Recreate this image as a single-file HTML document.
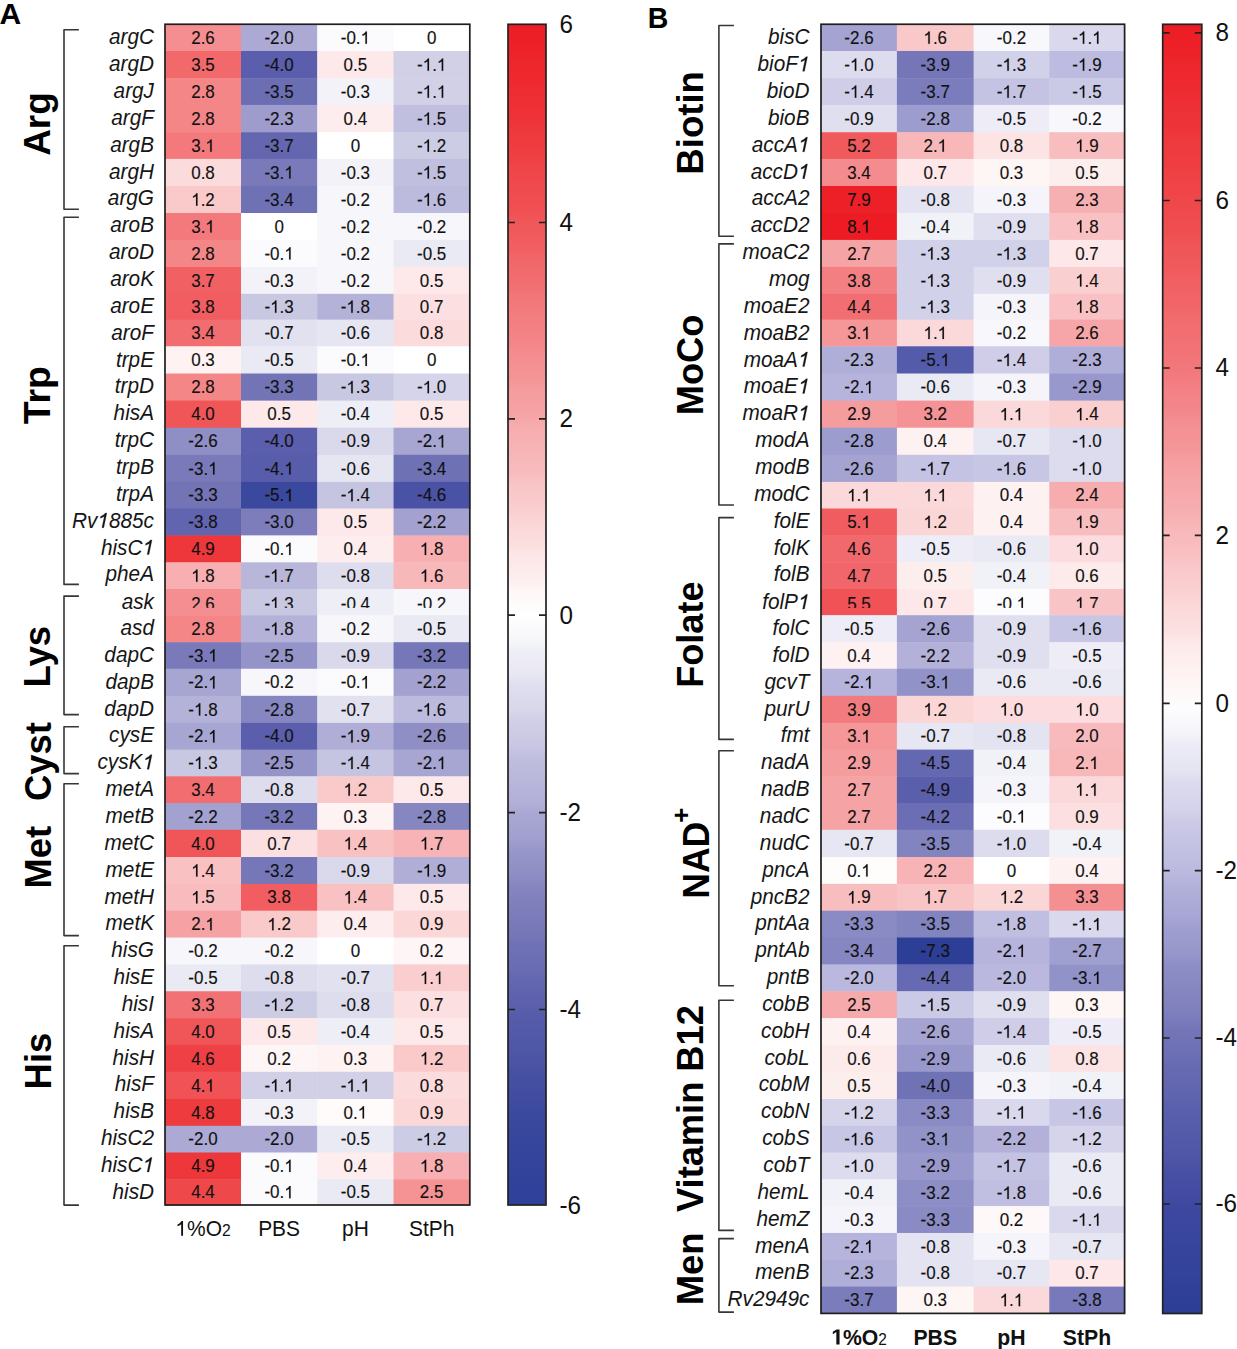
<!DOCTYPE html>
<html><head><meta charset="utf-8"><title>Heatmap</title><style>
html,body{margin:0;padding:0;background:#fff;}
body{width:1237px;height:1349px;overflow:hidden;}
svg{display:block;font-family:"Liberation Sans",sans-serif;}
.num{font-size:17.9px;fill:#111;stroke:#111;stroke-width:0.15px;}
.onep{fill:#111;stroke:#111;stroke-width:0.15px;vector-effect:non-scaling-stroke;}
.onec{fill:#111;}
.onei{fill:#161616;stroke:#161616;stroke-width:0.25px;vector-effect:non-scaling-stroke;}
.gene{font-size:21.2px;font-style:italic;fill:#161616;}
.grp{font-size:37.1px;font-weight:bold;fill:#000;}
.sup{font-size:25.6px;}
.cola{font-size:21.4px;fill:#111;}
.colb{font-size:22.1px;font-weight:bold;fill:#111;}
.sub{font-size:16px;font-weight:normal;}
.cbl{font-size:25.5px;fill:#111;}
.pl{font-size:30px;font-weight:bold;fill:#000;}
</style></head>
<body><svg width="1237" height="1349" viewBox="0 0 1237 1349">
<rect width="1237" height="1349" fill="#fff"/>
<text class="pl" transform="translate(-0.6 23.9)">A</text>
<text class="pl" transform="translate(647.8 27.5) scale(0.95 1)">B</text>
<rect x="165" y="24.25" width="76.5" height="27.25" fill="#f48e90"/>
<rect x="241" y="24.25" width="76.7" height="27.25" fill="#acaad4"/>
<rect x="317.2" y="24.25" width="76.85" height="27.25" fill="#fbfbfd"/>
<rect x="393.55" y="24.25" width="76.75" height="27.25" fill="#ffffff"/>
<rect x="165" y="51" width="76.5" height="27.7" fill="#f2696c"/>
<rect x="241" y="51" width="76.7" height="27.7" fill="#5a5eac"/>
<rect x="317.2" y="51" width="76.85" height="27.7" fill="#fde9e9"/>
<rect x="393.55" y="51" width="76.75" height="27.7" fill="#d1d0e7"/>
<rect x="165" y="78.2" width="76.5" height="27.2" fill="#f48688"/>
<rect x="241" y="78.2" width="76.7" height="27.2" fill="#6c6eb4"/>
<rect x="317.2" y="78.2" width="76.85" height="27.2" fill="#f3f2f9"/>
<rect x="393.55" y="78.2" width="76.75" height="27.2" fill="#d1d0e7"/>
<rect x="165" y="104.9" width="76.5" height="27.8" fill="#f48688"/>
<rect x="241" y="104.9" width="76.7" height="27.8" fill="#9e9ccc"/>
<rect x="317.2" y="104.9" width="76.85" height="27.8" fill="#fdedee"/>
<rect x="393.55" y="104.9" width="76.75" height="27.8" fill="#c1bfdf"/>
<rect x="165" y="132.2" width="76.5" height="27.2" fill="#f3797c"/>
<rect x="241" y="132.2" width="76.7" height="27.2" fill="#6467b0"/>
<rect x="317.2" y="132.2" width="76.85" height="27.2" fill="#ffffff"/>
<rect x="393.55" y="132.2" width="76.75" height="27.2" fill="#cdcce5"/>
<rect x="165" y="158.9" width="76.5" height="27.6" fill="#fbdbdc"/>
<rect x="241" y="158.9" width="76.7" height="27.6" fill="#7a7aba"/>
<rect x="317.2" y="158.9" width="76.85" height="27.6" fill="#f3f2f9"/>
<rect x="393.55" y="158.9" width="76.75" height="27.6" fill="#c1bfdf"/>
<rect x="165" y="186" width="76.5" height="27.5" fill="#facacb"/>
<rect x="241" y="186" width="76.7" height="27.5" fill="#6f71b5"/>
<rect x="317.2" y="186" width="76.85" height="27.5" fill="#f7f6fb"/>
<rect x="393.55" y="186" width="76.75" height="27.5" fill="#bdbbdd"/>
<rect x="165" y="213" width="76.5" height="27.4" fill="#f3797c"/>
<rect x="241" y="213" width="76.7" height="27.4" fill="#ffffff"/>
<rect x="317.2" y="213" width="76.85" height="27.4" fill="#f7f6fb"/>
<rect x="393.55" y="213" width="76.75" height="27.4" fill="#f7f6fb"/>
<rect x="165" y="239.9" width="76.5" height="27.55" fill="#f48688"/>
<rect x="241" y="239.9" width="76.7" height="27.55" fill="#fbfbfd"/>
<rect x="317.2" y="239.9" width="76.85" height="27.55" fill="#f7f6fb"/>
<rect x="393.55" y="239.9" width="76.75" height="27.55" fill="#eaeaf4"/>
<rect x="165" y="266.95" width="76.5" height="27.35" fill="#f16164"/>
<rect x="241" y="266.95" width="76.7" height="27.35" fill="#f3f2f9"/>
<rect x="317.2" y="266.95" width="76.85" height="27.35" fill="#f7f6fb"/>
<rect x="393.55" y="266.95" width="76.75" height="27.35" fill="#fde9e9"/>
<rect x="165" y="293.8" width="76.5" height="26.3" fill="#f15d60"/>
<rect x="241" y="293.8" width="76.7" height="26.3" fill="#c9c8e3"/>
<rect x="317.2" y="293.8" width="76.85" height="26.3" fill="#b4b2d8"/>
<rect x="393.55" y="293.8" width="76.75" height="26.3" fill="#fce0e1"/>
<rect x="165" y="319.6" width="76.5" height="27.2" fill="#f26d70"/>
<rect x="241" y="319.6" width="76.7" height="27.2" fill="#e2e1f0"/>
<rect x="317.2" y="319.6" width="76.85" height="27.2" fill="#e6e6f2"/>
<rect x="393.55" y="319.6" width="76.75" height="27.2" fill="#fbdbdc"/>
<rect x="165" y="346.3" width="76.5" height="27.7" fill="#fef2f2"/>
<rect x="241" y="346.3" width="76.7" height="27.7" fill="#eaeaf4"/>
<rect x="317.2" y="346.3" width="76.85" height="27.7" fill="#fbfbfd"/>
<rect x="393.55" y="346.3" width="76.75" height="27.7" fill="#ffffff"/>
<rect x="165" y="373.5" width="76.5" height="27.6" fill="#f48688"/>
<rect x="241" y="373.5" width="76.7" height="27.6" fill="#7274b6"/>
<rect x="317.2" y="373.5" width="76.85" height="27.6" fill="#c9c8e3"/>
<rect x="393.55" y="373.5" width="76.75" height="27.6" fill="#d6d4ea"/>
<rect x="165" y="400.6" width="76.5" height="27.6" fill="#f05558"/>
<rect x="241" y="400.6" width="76.7" height="27.6" fill="#fde9e9"/>
<rect x="317.2" y="400.6" width="76.85" height="27.6" fill="#eeeef6"/>
<rect x="393.55" y="400.6" width="76.75" height="27.6" fill="#fde9e9"/>
<rect x="165" y="427.7" width="76.5" height="27.6" fill="#908fc5"/>
<rect x="241" y="427.7" width="76.7" height="27.6" fill="#5a5eac"/>
<rect x="317.2" y="427.7" width="76.85" height="27.6" fill="#dad9ec"/>
<rect x="393.55" y="427.7" width="76.75" height="27.6" fill="#a7a6d2"/>
<rect x="165" y="454.8" width="76.5" height="27.6" fill="#7a7aba"/>
<rect x="241" y="454.8" width="76.7" height="27.6" fill="#575cab"/>
<rect x="317.2" y="454.8" width="76.85" height="27.6" fill="#e6e6f2"/>
<rect x="393.55" y="454.8" width="76.75" height="27.6" fill="#6f71b5"/>
<rect x="165" y="481.9" width="76.5" height="27.1" fill="#7274b6"/>
<rect x="241" y="481.9" width="76.7" height="27.1" fill="#3a489d"/>
<rect x="317.2" y="481.9" width="76.85" height="27.1" fill="#c5c4e1"/>
<rect x="393.55" y="481.9" width="76.75" height="27.1" fill="#4952a4"/>
<rect x="165" y="508.5" width="76.5" height="27.4" fill="#6164af"/>
<rect x="241" y="508.5" width="76.7" height="27.4" fill="#7d7dbb"/>
<rect x="317.2" y="508.5" width="76.85" height="27.4" fill="#fde9e9"/>
<rect x="393.55" y="508.5" width="76.75" height="27.4" fill="#a3a1cf"/>
<rect x="165" y="535.4" width="76.5" height="27.4" fill="#ee373b"/>
<rect x="241" y="535.4" width="76.7" height="27.4" fill="#fbfbfd"/>
<rect x="317.2" y="535.4" width="76.85" height="27.4" fill="#fdedee"/>
<rect x="393.55" y="535.4" width="76.75" height="27.4" fill="#f7afb1"/>
<rect x="165" y="562.3" width="76.5" height="27.2" fill="#f7afb1"/>
<rect x="241" y="562.3" width="76.7" height="27.2" fill="#b8b7da"/>
<rect x="317.2" y="562.3" width="76.85" height="27.2" fill="#deddee"/>
<rect x="393.55" y="562.3" width="76.75" height="27.2" fill="#f8b8b9"/>
<rect x="165" y="589" width="76.5" height="26.7" fill="#f48e90"/>
<rect x="241" y="589" width="76.7" height="26.7" fill="#c9c8e3"/>
<rect x="317.2" y="589" width="76.85" height="26.7" fill="#eeeef6"/>
<rect x="393.55" y="589" width="76.75" height="26.7" fill="#f7f6fb"/>
<rect x="165" y="615.2" width="76.5" height="27.5" fill="#f48688"/>
<rect x="241" y="615.2" width="76.7" height="27.5" fill="#b4b2d8"/>
<rect x="317.2" y="615.2" width="76.85" height="27.5" fill="#f7f6fb"/>
<rect x="393.55" y="615.2" width="76.75" height="27.5" fill="#eaeaf4"/>
<rect x="165" y="642.2" width="76.5" height="27.05" fill="#7a7aba"/>
<rect x="241" y="642.2" width="76.7" height="27.05" fill="#9494c8"/>
<rect x="317.2" y="642.2" width="76.85" height="27.05" fill="#dad9ec"/>
<rect x="393.55" y="642.2" width="76.75" height="27.05" fill="#7677b8"/>
<rect x="165" y="668.75" width="76.5" height="27.55" fill="#a7a6d2"/>
<rect x="241" y="668.75" width="76.7" height="27.55" fill="#f7f6fb"/>
<rect x="317.2" y="668.75" width="76.85" height="27.55" fill="#fbfbfd"/>
<rect x="393.55" y="668.75" width="76.75" height="27.55" fill="#a3a1cf"/>
<rect x="165" y="695.8" width="76.5" height="27.6" fill="#b4b2d8"/>
<rect x="241" y="695.8" width="76.7" height="27.6" fill="#8686c0"/>
<rect x="317.2" y="695.8" width="76.85" height="27.6" fill="#e2e1f0"/>
<rect x="393.55" y="695.8" width="76.75" height="27.6" fill="#bdbbdd"/>
<rect x="165" y="722.9" width="76.5" height="27.2" fill="#a7a6d2"/>
<rect x="241" y="722.9" width="76.7" height="27.2" fill="#5a5eac"/>
<rect x="317.2" y="722.9" width="76.85" height="27.2" fill="#b0aed6"/>
<rect x="393.55" y="722.9" width="76.75" height="27.2" fill="#908fc5"/>
<rect x="165" y="749.6" width="76.5" height="27.2" fill="#c9c8e3"/>
<rect x="241" y="749.6" width="76.7" height="27.2" fill="#9494c8"/>
<rect x="317.2" y="749.6" width="76.85" height="27.2" fill="#c5c4e1"/>
<rect x="393.55" y="749.6" width="76.75" height="27.2" fill="#a7a6d2"/>
<rect x="165" y="776.3" width="76.5" height="27.2" fill="#f26d70"/>
<rect x="241" y="776.3" width="76.7" height="27.2" fill="#deddee"/>
<rect x="317.2" y="776.3" width="76.85" height="27.2" fill="#facacb"/>
<rect x="393.55" y="776.3" width="76.75" height="27.2" fill="#fde9e9"/>
<rect x="165" y="803" width="76.5" height="27.3" fill="#a3a1cf"/>
<rect x="241" y="803" width="76.7" height="27.3" fill="#7677b8"/>
<rect x="317.2" y="803" width="76.85" height="27.3" fill="#fef2f2"/>
<rect x="393.55" y="803" width="76.75" height="27.3" fill="#8686c0"/>
<rect x="165" y="829.8" width="76.5" height="27.7" fill="#f05558"/>
<rect x="241" y="829.8" width="76.7" height="27.7" fill="#fce0e1"/>
<rect x="317.2" y="829.8" width="76.85" height="27.7" fill="#f9c1c2"/>
<rect x="393.55" y="829.8" width="76.75" height="27.7" fill="#f7b3b5"/>
<rect x="165" y="857" width="76.5" height="27.35" fill="#f9c1c2"/>
<rect x="241" y="857" width="76.7" height="27.35" fill="#7677b8"/>
<rect x="317.2" y="857" width="76.85" height="27.35" fill="#dad9ec"/>
<rect x="393.55" y="857" width="76.75" height="27.35" fill="#b0aed6"/>
<rect x="165" y="883.85" width="76.5" height="27.35" fill="#f8bcbe"/>
<rect x="241" y="883.85" width="76.7" height="27.35" fill="#f15d60"/>
<rect x="317.2" y="883.85" width="76.85" height="27.35" fill="#f9c1c2"/>
<rect x="393.55" y="883.85" width="76.75" height="27.35" fill="#fde9e9"/>
<rect x="165" y="910.7" width="76.5" height="27.35" fill="#f6a2a4"/>
<rect x="241" y="910.7" width="76.7" height="27.35" fill="#facacb"/>
<rect x="317.2" y="910.7" width="76.85" height="27.35" fill="#fdedee"/>
<rect x="393.55" y="910.7" width="76.75" height="27.35" fill="#fbd7d8"/>
<rect x="165" y="937.55" width="76.5" height="27.35" fill="#f7f6fb"/>
<rect x="241" y="937.55" width="76.7" height="27.35" fill="#f7f6fb"/>
<rect x="317.2" y="937.55" width="76.85" height="27.35" fill="#ffffff"/>
<rect x="393.55" y="937.55" width="76.75" height="27.35" fill="#fef6f6"/>
<rect x="165" y="964.4" width="76.5" height="27.35" fill="#eaeaf4"/>
<rect x="241" y="964.4" width="76.7" height="27.35" fill="#deddee"/>
<rect x="317.2" y="964.4" width="76.85" height="27.35" fill="#e2e1f0"/>
<rect x="393.55" y="964.4" width="76.75" height="27.35" fill="#facecf"/>
<rect x="165" y="991.25" width="76.5" height="27.35" fill="#f27174"/>
<rect x="241" y="991.25" width="76.7" height="27.35" fill="#cdcce5"/>
<rect x="317.2" y="991.25" width="76.85" height="27.35" fill="#deddee"/>
<rect x="393.55" y="991.25" width="76.75" height="27.35" fill="#fce0e1"/>
<rect x="165" y="1018.1" width="76.5" height="27.35" fill="#f05558"/>
<rect x="241" y="1018.1" width="76.7" height="27.35" fill="#fde9e9"/>
<rect x="317.2" y="1018.1" width="76.85" height="27.35" fill="#eeeef6"/>
<rect x="393.55" y="1018.1" width="76.75" height="27.35" fill="#fde9e9"/>
<rect x="165" y="1044.95" width="76.5" height="27.35" fill="#ef4145"/>
<rect x="241" y="1044.95" width="76.7" height="27.35" fill="#fef6f6"/>
<rect x="317.2" y="1044.95" width="76.85" height="27.35" fill="#fef2f2"/>
<rect x="393.55" y="1044.95" width="76.75" height="27.35" fill="#facacb"/>
<rect x="165" y="1071.8" width="76.5" height="27.7" fill="#f05255"/>
<rect x="241" y="1071.8" width="76.7" height="27.7" fill="#d1d0e7"/>
<rect x="317.2" y="1071.8" width="76.85" height="27.7" fill="#d1d0e7"/>
<rect x="393.55" y="1071.8" width="76.75" height="27.7" fill="#fbdbdc"/>
<rect x="165" y="1099" width="76.5" height="27.3" fill="#ee3b3e"/>
<rect x="241" y="1099" width="76.7" height="27.3" fill="#f3f2f9"/>
<rect x="317.2" y="1099" width="76.85" height="27.3" fill="#fffbfb"/>
<rect x="393.55" y="1099" width="76.75" height="27.3" fill="#fbd7d8"/>
<rect x="165" y="1125.8" width="76.5" height="27.2" fill="#acaad4"/>
<rect x="241" y="1125.8" width="76.7" height="27.2" fill="#acaad4"/>
<rect x="317.2" y="1125.8" width="76.85" height="27.2" fill="#eaeaf4"/>
<rect x="393.55" y="1125.8" width="76.75" height="27.2" fill="#cdcce5"/>
<rect x="165" y="1152.5" width="76.5" height="27.32" fill="#ee373b"/>
<rect x="241" y="1152.5" width="76.7" height="27.32" fill="#fbfbfd"/>
<rect x="317.2" y="1152.5" width="76.85" height="27.32" fill="#fdedee"/>
<rect x="393.55" y="1152.5" width="76.75" height="27.32" fill="#f7afb1"/>
<rect x="165" y="1179.32" width="76.5" height="26.18" fill="#ef484b"/>
<rect x="241" y="1179.32" width="76.7" height="26.18" fill="#fbfbfd"/>
<rect x="317.2" y="1179.32" width="76.85" height="26.18" fill="#eaeaf4"/>
<rect x="393.55" y="1179.32" width="76.75" height="26.18" fill="#f49294"/>
<text class="num" transform="translate(203 43.77) scale(0.95 1)" text-anchor="middle">2.6</text>
<text class="num" transform="translate(279.1 43.77) scale(0.95 1)" text-anchor="middle">-2.0</text>
<text class="num" transform="translate(355.38 43.77) scale(0.95 1)" text-anchor="middle">-0. </text><path class="onep" d="M763 0H583V1100C520 1040 420 975 223 905V1075C390 1140 540 1260 620 1409H763Z" transform="translate(360.57 43.77) scale(0.00830 -0.00874)"/>
<text class="num" transform="translate(431.68 43.77) scale(0.95 1)" text-anchor="middle">0</text>
<text class="num" transform="translate(203 70.75) scale(0.95 1)" text-anchor="middle">3.5</text>
<text class="num" transform="translate(279.1 70.75) scale(0.95 1)" text-anchor="middle">-4.0</text>
<text class="num" transform="translate(355.38 70.75) scale(0.95 1)" text-anchor="middle">0.5</text>
<text class="num" transform="translate(431.68 70.75) scale(0.95 1)" text-anchor="middle">- . </text><path class="onep" d="M763 0H583V1100C520 1040 420 975 223 905V1075C390 1140 540 1260 620 1409H763Z" transform="translate(422.69 70.75) scale(0.00830 -0.00874)"/><path class="onep" d="M763 0H583V1100C520 1040 420 975 223 905V1075C390 1140 540 1260 620 1409H763Z" transform="translate(436.87 70.75) scale(0.00830 -0.00874)"/>
<text class="num" transform="translate(203 97.7) scale(0.95 1)" text-anchor="middle">2.8</text>
<text class="num" transform="translate(279.1 97.7) scale(0.95 1)" text-anchor="middle">-3.5</text>
<text class="num" transform="translate(355.38 97.7) scale(0.95 1)" text-anchor="middle">-0.3</text>
<text class="num" transform="translate(431.68 97.7) scale(0.95 1)" text-anchor="middle">- . </text><path class="onep" d="M763 0H583V1100C520 1040 420 975 223 905V1075C390 1140 540 1260 620 1409H763Z" transform="translate(422.69 97.7) scale(0.00830 -0.00874)"/><path class="onep" d="M763 0H583V1100C520 1040 420 975 223 905V1075C390 1140 540 1260 620 1409H763Z" transform="translate(436.87 97.7) scale(0.00830 -0.00874)"/>
<text class="num" transform="translate(203 124.7) scale(0.95 1)" text-anchor="middle">2.8</text>
<text class="num" transform="translate(279.1 124.7) scale(0.95 1)" text-anchor="middle">-2.3</text>
<text class="num" transform="translate(355.38 124.7) scale(0.95 1)" text-anchor="middle">0.4</text>
<text class="num" transform="translate(431.68 124.7) scale(0.95 1)" text-anchor="middle">- .5</text><path class="onep" d="M763 0H583V1100C520 1040 420 975 223 905V1075C390 1140 540 1260 620 1409H763Z" transform="translate(422.69 124.7) scale(0.00830 -0.00874)"/>
<text class="num" transform="translate(203 151.7) scale(0.95 1)" text-anchor="middle">3. </text><path class="onep" d="M763 0H583V1100C520 1040 420 975 223 905V1075C390 1140 540 1260 620 1409H763Z" transform="translate(205.36 151.7) scale(0.00830 -0.00874)"/>
<text class="num" transform="translate(279.1 151.7) scale(0.95 1)" text-anchor="middle">-3.7</text>
<text class="num" transform="translate(355.38 151.7) scale(0.95 1)" text-anchor="middle">0</text>
<text class="num" transform="translate(431.68 151.7) scale(0.95 1)" text-anchor="middle">- .2</text><path class="onep" d="M763 0H583V1100C520 1040 420 975 223 905V1075C390 1140 540 1260 620 1409H763Z" transform="translate(422.69 151.7) scale(0.00830 -0.00874)"/>
<text class="num" transform="translate(203 178.6) scale(0.95 1)" text-anchor="middle">0.8</text>
<text class="num" transform="translate(279.1 178.6) scale(0.95 1)" text-anchor="middle">-3. </text><path class="onep" d="M763 0H583V1100C520 1040 420 975 223 905V1075C390 1140 540 1260 620 1409H763Z" transform="translate(284.29 178.6) scale(0.00830 -0.00874)"/>
<text class="num" transform="translate(355.38 178.6) scale(0.95 1)" text-anchor="middle">-0.3</text>
<text class="num" transform="translate(431.68 178.6) scale(0.95 1)" text-anchor="middle">- .5</text><path class="onep" d="M763 0H583V1100C520 1040 420 975 223 905V1075C390 1140 540 1260 620 1409H763Z" transform="translate(422.69 178.6) scale(0.00830 -0.00874)"/>
<text class="num" transform="translate(203 205.65) scale(0.95 1)" text-anchor="middle"> .2</text><path class="onep" d="M763 0H583V1100C520 1040 420 975 223 905V1075C390 1140 540 1260 620 1409H763Z" transform="translate(191.18 205.65) scale(0.00830 -0.00874)"/>
<text class="num" transform="translate(279.1 205.65) scale(0.95 1)" text-anchor="middle">-3.4</text>
<text class="num" transform="translate(355.38 205.65) scale(0.95 1)" text-anchor="middle">-0.2</text>
<text class="num" transform="translate(431.68 205.65) scale(0.95 1)" text-anchor="middle">- .6</text><path class="onep" d="M763 0H583V1100C520 1040 420 975 223 905V1075C390 1140 540 1260 620 1409H763Z" transform="translate(422.69 205.65) scale(0.00830 -0.00874)"/>
<text class="num" transform="translate(203 232.6) scale(0.95 1)" text-anchor="middle">3. </text><path class="onep" d="M763 0H583V1100C520 1040 420 975 223 905V1075C390 1140 540 1260 620 1409H763Z" transform="translate(205.36 232.6) scale(0.00830 -0.00874)"/>
<text class="num" transform="translate(279.1 232.6) scale(0.95 1)" text-anchor="middle">0</text>
<text class="num" transform="translate(355.38 232.6) scale(0.95 1)" text-anchor="middle">-0.2</text>
<text class="num" transform="translate(431.68 232.6) scale(0.95 1)" text-anchor="middle">-0.2</text>
<text class="num" transform="translate(203 259.57) scale(0.95 1)" text-anchor="middle">2.8</text>
<text class="num" transform="translate(279.1 259.57) scale(0.95 1)" text-anchor="middle">-0. </text><path class="onep" d="M763 0H583V1100C520 1040 420 975 223 905V1075C390 1140 540 1260 620 1409H763Z" transform="translate(284.29 259.57) scale(0.00830 -0.00874)"/>
<text class="num" transform="translate(355.38 259.57) scale(0.95 1)" text-anchor="middle">-0.2</text>
<text class="num" transform="translate(431.68 259.57) scale(0.95 1)" text-anchor="middle">-0.5</text>
<text class="num" transform="translate(203 286.52) scale(0.95 1)" text-anchor="middle">3.7</text>
<text class="num" transform="translate(279.1 286.52) scale(0.95 1)" text-anchor="middle">-0.3</text>
<text class="num" transform="translate(355.38 286.52) scale(0.95 1)" text-anchor="middle">-0.2</text>
<text class="num" transform="translate(431.68 286.52) scale(0.95 1)" text-anchor="middle">0.5</text>
<text class="num" transform="translate(203 312.85) scale(0.95 1)" text-anchor="middle">3.8</text>
<text class="num" transform="translate(279.1 312.85) scale(0.95 1)" text-anchor="middle">- .3</text><path class="onep" d="M763 0H583V1100C520 1040 420 975 223 905V1075C390 1140 540 1260 620 1409H763Z" transform="translate(270.11 312.85) scale(0.00830 -0.00874)"/>
<text class="num" transform="translate(355.38 312.85) scale(0.95 1)" text-anchor="middle">- .8</text><path class="onep" d="M763 0H583V1100C520 1040 420 975 223 905V1075C390 1140 540 1260 620 1409H763Z" transform="translate(346.39 312.85) scale(0.00830 -0.00874)"/>
<text class="num" transform="translate(431.68 312.85) scale(0.95 1)" text-anchor="middle">0.7</text>
<text class="num" transform="translate(203 339.1) scale(0.95 1)" text-anchor="middle">3.4</text>
<text class="num" transform="translate(279.1 339.1) scale(0.95 1)" text-anchor="middle">-0.7</text>
<text class="num" transform="translate(355.38 339.1) scale(0.95 1)" text-anchor="middle">-0.6</text>
<text class="num" transform="translate(431.68 339.1) scale(0.95 1)" text-anchor="middle">0.8</text>
<text class="num" transform="translate(203 366.05) scale(0.95 1)" text-anchor="middle">0.3</text>
<text class="num" transform="translate(279.1 366.05) scale(0.95 1)" text-anchor="middle">-0.5</text>
<text class="num" transform="translate(355.38 366.05) scale(0.95 1)" text-anchor="middle">-0. </text><path class="onep" d="M763 0H583V1100C520 1040 420 975 223 905V1075C390 1140 540 1260 620 1409H763Z" transform="translate(360.57 366.05) scale(0.00830 -0.00874)"/>
<text class="num" transform="translate(431.68 366.05) scale(0.95 1)" text-anchor="middle">0</text>
<text class="num" transform="translate(203 393.2) scale(0.95 1)" text-anchor="middle">2.8</text>
<text class="num" transform="translate(279.1 393.2) scale(0.95 1)" text-anchor="middle">-3.3</text>
<text class="num" transform="translate(355.38 393.2) scale(0.95 1)" text-anchor="middle">- .3</text><path class="onep" d="M763 0H583V1100C520 1040 420 975 223 905V1075C390 1140 540 1260 620 1409H763Z" transform="translate(346.39 393.2) scale(0.00830 -0.00874)"/>
<text class="num" transform="translate(431.68 393.2) scale(0.95 1)" text-anchor="middle">- .0</text><path class="onep" d="M763 0H583V1100C520 1040 420 975 223 905V1075C390 1140 540 1260 620 1409H763Z" transform="translate(422.69 393.2) scale(0.00830 -0.00874)"/>
<text class="num" transform="translate(203 420.3) scale(0.95 1)" text-anchor="middle">4.0</text>
<text class="num" transform="translate(279.1 420.3) scale(0.95 1)" text-anchor="middle">0.5</text>
<text class="num" transform="translate(355.38 420.3) scale(0.95 1)" text-anchor="middle">-0.4</text>
<text class="num" transform="translate(431.68 420.3) scale(0.95 1)" text-anchor="middle">0.5</text>
<text class="num" transform="translate(203 447.4) scale(0.95 1)" text-anchor="middle">-2.6</text>
<text class="num" transform="translate(279.1 447.4) scale(0.95 1)" text-anchor="middle">-4.0</text>
<text class="num" transform="translate(355.38 447.4) scale(0.95 1)" text-anchor="middle">-0.9</text>
<text class="num" transform="translate(431.68 447.4) scale(0.95 1)" text-anchor="middle">-2. </text><path class="onep" d="M763 0H583V1100C520 1040 420 975 223 905V1075C390 1140 540 1260 620 1409H763Z" transform="translate(436.87 447.4) scale(0.00830 -0.00874)"/>
<text class="num" transform="translate(203 474.5) scale(0.95 1)" text-anchor="middle">-3. </text><path class="onep" d="M763 0H583V1100C520 1040 420 975 223 905V1075C390 1140 540 1260 620 1409H763Z" transform="translate(208.19 474.5) scale(0.00830 -0.00874)"/>
<text class="num" transform="translate(279.1 474.5) scale(0.95 1)" text-anchor="middle">-4. </text><path class="onep" d="M763 0H583V1100C520 1040 420 975 223 905V1075C390 1140 540 1260 620 1409H763Z" transform="translate(284.29 474.5) scale(0.00830 -0.00874)"/>
<text class="num" transform="translate(355.38 474.5) scale(0.95 1)" text-anchor="middle">-0.6</text>
<text class="num" transform="translate(431.68 474.5) scale(0.95 1)" text-anchor="middle">-3.4</text>
<text class="num" transform="translate(203 501.35) scale(0.95 1)" text-anchor="middle">-3.3</text>
<text class="num" transform="translate(279.1 501.35) scale(0.95 1)" text-anchor="middle">-5. </text><path class="onep" d="M763 0H583V1100C520 1040 420 975 223 905V1075C390 1140 540 1260 620 1409H763Z" transform="translate(284.29 501.35) scale(0.00830 -0.00874)"/>
<text class="num" transform="translate(355.38 501.35) scale(0.95 1)" text-anchor="middle">- .4</text><path class="onep" d="M763 0H583V1100C520 1040 420 975 223 905V1075C390 1140 540 1260 620 1409H763Z" transform="translate(346.39 501.35) scale(0.00830 -0.00874)"/>
<text class="num" transform="translate(431.68 501.35) scale(0.95 1)" text-anchor="middle">-4.6</text>
<text class="num" transform="translate(203 528.1) scale(0.95 1)" text-anchor="middle">-3.8</text>
<text class="num" transform="translate(279.1 528.1) scale(0.95 1)" text-anchor="middle">-3.0</text>
<text class="num" transform="translate(355.38 528.1) scale(0.95 1)" text-anchor="middle">0.5</text>
<text class="num" transform="translate(431.68 528.1) scale(0.95 1)" text-anchor="middle">-2.2</text>
<text class="num" transform="translate(203 555) scale(0.95 1)" text-anchor="middle">4.9</text>
<text class="num" transform="translate(279.1 555) scale(0.95 1)" text-anchor="middle">-0. </text><path class="onep" d="M763 0H583V1100C520 1040 420 975 223 905V1075C390 1140 540 1260 620 1409H763Z" transform="translate(284.29 555) scale(0.00830 -0.00874)"/>
<text class="num" transform="translate(355.38 555) scale(0.95 1)" text-anchor="middle">0.4</text>
<text class="num" transform="translate(431.68 555) scale(0.95 1)" text-anchor="middle"> .8</text><path class="onep" d="M763 0H583V1100C520 1040 420 975 223 905V1075C390 1140 540 1260 620 1409H763Z" transform="translate(419.86 555) scale(0.00830 -0.00874)"/>
<text class="num" transform="translate(203 581.8) scale(0.95 1)" text-anchor="middle"> .8</text><path class="onep" d="M763 0H583V1100C520 1040 420 975 223 905V1075C390 1140 540 1260 620 1409H763Z" transform="translate(191.18 581.8) scale(0.00830 -0.00874)"/>
<text class="num" transform="translate(279.1 581.8) scale(0.95 1)" text-anchor="middle">- .7</text><path class="onep" d="M763 0H583V1100C520 1040 420 975 223 905V1075C390 1140 540 1260 620 1409H763Z" transform="translate(270.11 581.8) scale(0.00830 -0.00874)"/>
<text class="num" transform="translate(355.38 581.8) scale(0.95 1)" text-anchor="middle">-0.8</text>
<text class="num" transform="translate(431.68 581.8) scale(0.95 1)" text-anchor="middle"> .6</text><path class="onep" d="M763 0H583V1100C520 1040 420 975 223 905V1075C390 1140 540 1260 620 1409H763Z" transform="translate(419.86 581.8) scale(0.00830 -0.00874)"/>
<text class="num" transform="translate(203 609.65) scale(0.95 1)" text-anchor="middle">2.6</text>
<text class="num" transform="translate(279.1 609.65) scale(0.95 1)" text-anchor="middle">- .3</text><path class="onep" d="M763 0H583V1100C520 1040 420 975 223 905V1075C390 1140 540 1260 620 1409H763Z" transform="translate(270.11 609.65) scale(0.00830 -0.00874)"/>
<text class="num" transform="translate(355.38 609.65) scale(0.95 1)" text-anchor="middle">-0.4</text>
<text class="num" transform="translate(431.68 609.65) scale(0.95 1)" text-anchor="middle">-0.2</text>
<text class="num" transform="translate(203 634.85) scale(0.95 1)" text-anchor="middle">2.8</text>
<text class="num" transform="translate(279.1 634.85) scale(0.95 1)" text-anchor="middle">- .8</text><path class="onep" d="M763 0H583V1100C520 1040 420 975 223 905V1075C390 1140 540 1260 620 1409H763Z" transform="translate(270.11 634.85) scale(0.00830 -0.00874)"/>
<text class="num" transform="translate(355.38 634.85) scale(0.95 1)" text-anchor="middle">-0.2</text>
<text class="num" transform="translate(431.68 634.85) scale(0.95 1)" text-anchor="middle">-0.5</text>
<text class="num" transform="translate(203 661.62) scale(0.95 1)" text-anchor="middle">-3. </text><path class="onep" d="M763 0H583V1100C520 1040 420 975 223 905V1075C390 1140 540 1260 620 1409H763Z" transform="translate(208.19 661.62) scale(0.00830 -0.00874)"/>
<text class="num" transform="translate(279.1 661.62) scale(0.95 1)" text-anchor="middle">-2.5</text>
<text class="num" transform="translate(355.38 661.62) scale(0.95 1)" text-anchor="middle">-0.9</text>
<text class="num" transform="translate(431.68 661.62) scale(0.95 1)" text-anchor="middle">-3.2</text>
<text class="num" transform="translate(203 688.42) scale(0.95 1)" text-anchor="middle">-2. </text><path class="onep" d="M763 0H583V1100C520 1040 420 975 223 905V1075C390 1140 540 1260 620 1409H763Z" transform="translate(208.19 688.42) scale(0.00830 -0.00874)"/>
<text class="num" transform="translate(279.1 688.42) scale(0.95 1)" text-anchor="middle">-0.2</text>
<text class="num" transform="translate(355.38 688.42) scale(0.95 1)" text-anchor="middle">-0. </text><path class="onep" d="M763 0H583V1100C520 1040 420 975 223 905V1075C390 1140 540 1260 620 1409H763Z" transform="translate(360.57 688.42) scale(0.00830 -0.00874)"/>
<text class="num" transform="translate(431.68 688.42) scale(0.95 1)" text-anchor="middle">-2.2</text>
<text class="num" transform="translate(203 715.5) scale(0.95 1)" text-anchor="middle">- .8</text><path class="onep" d="M763 0H583V1100C520 1040 420 975 223 905V1075C390 1140 540 1260 620 1409H763Z" transform="translate(194.01 715.5) scale(0.00830 -0.00874)"/>
<text class="num" transform="translate(279.1 715.5) scale(0.95 1)" text-anchor="middle">-2.8</text>
<text class="num" transform="translate(355.38 715.5) scale(0.95 1)" text-anchor="middle">-0.7</text>
<text class="num" transform="translate(431.68 715.5) scale(0.95 1)" text-anchor="middle">- .6</text><path class="onep" d="M763 0H583V1100C520 1040 420 975 223 905V1075C390 1140 540 1260 620 1409H763Z" transform="translate(422.69 715.5) scale(0.00830 -0.00874)"/>
<text class="num" transform="translate(203 742.4) scale(0.95 1)" text-anchor="middle">-2. </text><path class="onep" d="M763 0H583V1100C520 1040 420 975 223 905V1075C390 1140 540 1260 620 1409H763Z" transform="translate(208.19 742.4) scale(0.00830 -0.00874)"/>
<text class="num" transform="translate(279.1 742.4) scale(0.95 1)" text-anchor="middle">-4.0</text>
<text class="num" transform="translate(355.38 742.4) scale(0.95 1)" text-anchor="middle">- .9</text><path class="onep" d="M763 0H583V1100C520 1040 420 975 223 905V1075C390 1140 540 1260 620 1409H763Z" transform="translate(346.39 742.4) scale(0.00830 -0.00874)"/>
<text class="num" transform="translate(431.68 742.4) scale(0.95 1)" text-anchor="middle">-2.6</text>
<text class="num" transform="translate(203 769.1) scale(0.95 1)" text-anchor="middle">- .3</text><path class="onep" d="M763 0H583V1100C520 1040 420 975 223 905V1075C390 1140 540 1260 620 1409H763Z" transform="translate(194.01 769.1) scale(0.00830 -0.00874)"/>
<text class="num" transform="translate(279.1 769.1) scale(0.95 1)" text-anchor="middle">-2.5</text>
<text class="num" transform="translate(355.38 769.1) scale(0.95 1)" text-anchor="middle">- .4</text><path class="onep" d="M763 0H583V1100C520 1040 420 975 223 905V1075C390 1140 540 1260 620 1409H763Z" transform="translate(346.39 769.1) scale(0.00830 -0.00874)"/>
<text class="num" transform="translate(431.68 769.1) scale(0.95 1)" text-anchor="middle">-2. </text><path class="onep" d="M763 0H583V1100C520 1040 420 975 223 905V1075C390 1140 540 1260 620 1409H763Z" transform="translate(436.87 769.1) scale(0.00830 -0.00874)"/>
<text class="num" transform="translate(203 795.8) scale(0.95 1)" text-anchor="middle">3.4</text>
<text class="num" transform="translate(279.1 795.8) scale(0.95 1)" text-anchor="middle">-0.8</text>
<text class="num" transform="translate(355.38 795.8) scale(0.95 1)" text-anchor="middle"> .2</text><path class="onep" d="M763 0H583V1100C520 1040 420 975 223 905V1075C390 1140 540 1260 620 1409H763Z" transform="translate(343.56 795.8) scale(0.00830 -0.00874)"/>
<text class="num" transform="translate(431.68 795.8) scale(0.95 1)" text-anchor="middle">0.5</text>
<text class="num" transform="translate(203 822.55) scale(0.95 1)" text-anchor="middle">-2.2</text>
<text class="num" transform="translate(279.1 822.55) scale(0.95 1)" text-anchor="middle">-3.2</text>
<text class="num" transform="translate(355.38 822.55) scale(0.95 1)" text-anchor="middle">0.3</text>
<text class="num" transform="translate(431.68 822.55) scale(0.95 1)" text-anchor="middle">-2.8</text>
<text class="num" transform="translate(203 849.55) scale(0.95 1)" text-anchor="middle">4.0</text>
<text class="num" transform="translate(279.1 849.55) scale(0.95 1)" text-anchor="middle">0.7</text>
<text class="num" transform="translate(355.38 849.55) scale(0.95 1)" text-anchor="middle"> .4</text><path class="onep" d="M763 0H583V1100C520 1040 420 975 223 905V1075C390 1140 540 1260 620 1409H763Z" transform="translate(343.56 849.55) scale(0.00830 -0.00874)"/>
<text class="num" transform="translate(431.68 849.55) scale(0.95 1)" text-anchor="middle"> .7</text><path class="onep" d="M763 0H583V1100C520 1040 420 975 223 905V1075C390 1140 540 1260 620 1409H763Z" transform="translate(419.86 849.55) scale(0.00830 -0.00874)"/>
<text class="num" transform="translate(203 876.57) scale(0.95 1)" text-anchor="middle"> .4</text><path class="onep" d="M763 0H583V1100C520 1040 420 975 223 905V1075C390 1140 540 1260 620 1409H763Z" transform="translate(191.18 876.57) scale(0.00830 -0.00874)"/>
<text class="num" transform="translate(279.1 876.57) scale(0.95 1)" text-anchor="middle">-3.2</text>
<text class="num" transform="translate(355.38 876.57) scale(0.95 1)" text-anchor="middle">-0.9</text>
<text class="num" transform="translate(431.68 876.57) scale(0.95 1)" text-anchor="middle">- .9</text><path class="onep" d="M763 0H583V1100C520 1040 420 975 223 905V1075C390 1140 540 1260 620 1409H763Z" transform="translate(422.69 876.57) scale(0.00830 -0.00874)"/>
<text class="num" transform="translate(203 903.43) scale(0.95 1)" text-anchor="middle"> .5</text><path class="onep" d="M763 0H583V1100C520 1040 420 975 223 905V1075C390 1140 540 1260 620 1409H763Z" transform="translate(191.18 903.43) scale(0.00830 -0.00874)"/>
<text class="num" transform="translate(279.1 903.43) scale(0.95 1)" text-anchor="middle">3.8</text>
<text class="num" transform="translate(355.38 903.43) scale(0.95 1)" text-anchor="middle"> .4</text><path class="onep" d="M763 0H583V1100C520 1040 420 975 223 905V1075C390 1140 540 1260 620 1409H763Z" transform="translate(343.56 903.43) scale(0.00830 -0.00874)"/>
<text class="num" transform="translate(431.68 903.43) scale(0.95 1)" text-anchor="middle">0.5</text>
<text class="num" transform="translate(203 930.27) scale(0.95 1)" text-anchor="middle">2. </text><path class="onep" d="M763 0H583V1100C520 1040 420 975 223 905V1075C390 1140 540 1260 620 1409H763Z" transform="translate(205.36 930.27) scale(0.00830 -0.00874)"/>
<text class="num" transform="translate(279.1 930.27) scale(0.95 1)" text-anchor="middle"> .2</text><path class="onep" d="M763 0H583V1100C520 1040 420 975 223 905V1075C390 1140 540 1260 620 1409H763Z" transform="translate(267.28 930.27) scale(0.00830 -0.00874)"/>
<text class="num" transform="translate(355.38 930.27) scale(0.95 1)" text-anchor="middle">0.4</text>
<text class="num" transform="translate(431.68 930.27) scale(0.95 1)" text-anchor="middle">0.9</text>
<text class="num" transform="translate(203 957.12) scale(0.95 1)" text-anchor="middle">-0.2</text>
<text class="num" transform="translate(279.1 957.12) scale(0.95 1)" text-anchor="middle">-0.2</text>
<text class="num" transform="translate(355.38 957.12) scale(0.95 1)" text-anchor="middle">0</text>
<text class="num" transform="translate(431.68 957.12) scale(0.95 1)" text-anchor="middle">0.2</text>
<text class="num" transform="translate(203 983.98) scale(0.95 1)" text-anchor="middle">-0.5</text>
<text class="num" transform="translate(279.1 983.98) scale(0.95 1)" text-anchor="middle">-0.8</text>
<text class="num" transform="translate(355.38 983.98) scale(0.95 1)" text-anchor="middle">-0.7</text>
<text class="num" transform="translate(431.68 983.98) scale(0.95 1)" text-anchor="middle"> . </text><path class="onep" d="M763 0H583V1100C520 1040 420 975 223 905V1075C390 1140 540 1260 620 1409H763Z" transform="translate(419.86 983.98) scale(0.00830 -0.00874)"/><path class="onep" d="M763 0H583V1100C520 1040 420 975 223 905V1075C390 1140 540 1260 620 1409H763Z" transform="translate(434.04 983.98) scale(0.00830 -0.00874)"/>
<text class="num" transform="translate(203 1010.82) scale(0.95 1)" text-anchor="middle">3.3</text>
<text class="num" transform="translate(279.1 1010.82) scale(0.95 1)" text-anchor="middle">- .2</text><path class="onep" d="M763 0H583V1100C520 1040 420 975 223 905V1075C390 1140 540 1260 620 1409H763Z" transform="translate(270.11 1010.82) scale(0.00830 -0.00874)"/>
<text class="num" transform="translate(355.38 1010.82) scale(0.95 1)" text-anchor="middle">-0.8</text>
<text class="num" transform="translate(431.68 1010.82) scale(0.95 1)" text-anchor="middle">0.7</text>
<text class="num" transform="translate(203 1037.68) scale(0.95 1)" text-anchor="middle">4.0</text>
<text class="num" transform="translate(279.1 1037.68) scale(0.95 1)" text-anchor="middle">0.5</text>
<text class="num" transform="translate(355.38 1037.68) scale(0.95 1)" text-anchor="middle">-0.4</text>
<text class="num" transform="translate(431.68 1037.68) scale(0.95 1)" text-anchor="middle">0.5</text>
<text class="num" transform="translate(203 1064.53) scale(0.95 1)" text-anchor="middle">4.6</text>
<text class="num" transform="translate(279.1 1064.53) scale(0.95 1)" text-anchor="middle">0.2</text>
<text class="num" transform="translate(355.38 1064.53) scale(0.95 1)" text-anchor="middle">0.3</text>
<text class="num" transform="translate(431.68 1064.53) scale(0.95 1)" text-anchor="middle"> .2</text><path class="onep" d="M763 0H583V1100C520 1040 420 975 223 905V1075C390 1140 540 1260 620 1409H763Z" transform="translate(419.86 1064.53) scale(0.00830 -0.00874)"/>
<text class="num" transform="translate(203 1091.55) scale(0.95 1)" text-anchor="middle">4. </text><path class="onep" d="M763 0H583V1100C520 1040 420 975 223 905V1075C390 1140 540 1260 620 1409H763Z" transform="translate(205.36 1091.55) scale(0.00830 -0.00874)"/>
<text class="num" transform="translate(279.1 1091.55) scale(0.95 1)" text-anchor="middle">- . </text><path class="onep" d="M763 0H583V1100C520 1040 420 975 223 905V1075C390 1140 540 1260 620 1409H763Z" transform="translate(270.11 1091.55) scale(0.00830 -0.00874)"/><path class="onep" d="M763 0H583V1100C520 1040 420 975 223 905V1075C390 1140 540 1260 620 1409H763Z" transform="translate(284.29 1091.55) scale(0.00830 -0.00874)"/>
<text class="num" transform="translate(355.38 1091.55) scale(0.95 1)" text-anchor="middle">- . </text><path class="onep" d="M763 0H583V1100C520 1040 420 975 223 905V1075C390 1140 540 1260 620 1409H763Z" transform="translate(346.39 1091.55) scale(0.00830 -0.00874)"/><path class="onep" d="M763 0H583V1100C520 1040 420 975 223 905V1075C390 1140 540 1260 620 1409H763Z" transform="translate(360.57 1091.55) scale(0.00830 -0.00874)"/>
<text class="num" transform="translate(431.68 1091.55) scale(0.95 1)" text-anchor="middle">0.8</text>
<text class="num" transform="translate(203 1118.55) scale(0.95 1)" text-anchor="middle">4.8</text>
<text class="num" transform="translate(279.1 1118.55) scale(0.95 1)" text-anchor="middle">-0.3</text>
<text class="num" transform="translate(355.38 1118.55) scale(0.95 1)" text-anchor="middle">0. </text><path class="onep" d="M763 0H583V1100C520 1040 420 975 223 905V1075C390 1140 540 1260 620 1409H763Z" transform="translate(357.74 1118.55) scale(0.00830 -0.00874)"/>
<text class="num" transform="translate(431.68 1118.55) scale(0.95 1)" text-anchor="middle">0.9</text>
<text class="num" transform="translate(203 1145.3) scale(0.95 1)" text-anchor="middle">-2.0</text>
<text class="num" transform="translate(279.1 1145.3) scale(0.95 1)" text-anchor="middle">-2.0</text>
<text class="num" transform="translate(355.38 1145.3) scale(0.95 1)" text-anchor="middle">-0.5</text>
<text class="num" transform="translate(431.68 1145.3) scale(0.95 1)" text-anchor="middle">- .2</text><path class="onep" d="M763 0H583V1100C520 1040 420 975 223 905V1075C390 1140 540 1260 620 1409H763Z" transform="translate(422.69 1145.3) scale(0.00830 -0.00874)"/>
<text class="num" transform="translate(203 1172.06) scale(0.95 1)" text-anchor="middle">4.9</text>
<text class="num" transform="translate(279.1 1172.06) scale(0.95 1)" text-anchor="middle">-0. </text><path class="onep" d="M763 0H583V1100C520 1040 420 975 223 905V1075C390 1140 540 1260 620 1409H763Z" transform="translate(284.29 1172.06) scale(0.00830 -0.00874)"/>
<text class="num" transform="translate(355.38 1172.06) scale(0.95 1)" text-anchor="middle">0.4</text>
<text class="num" transform="translate(431.68 1172.06) scale(0.95 1)" text-anchor="middle"> .8</text><path class="onep" d="M763 0H583V1100C520 1040 420 975 223 905V1075C390 1140 540 1260 620 1409H763Z" transform="translate(419.86 1172.06) scale(0.00830 -0.00874)"/>
<text class="num" transform="translate(203 1198.31) scale(0.95 1)" text-anchor="middle">4.4</text>
<text class="num" transform="translate(279.1 1198.31) scale(0.95 1)" text-anchor="middle">-0. </text><path class="onep" d="M763 0H583V1100C520 1040 420 975 223 905V1075C390 1140 540 1260 620 1409H763Z" transform="translate(284.29 1198.31) scale(0.00830 -0.00874)"/>
<text class="num" transform="translate(355.38 1198.31) scale(0.95 1)" text-anchor="middle">-0.5</text>
<text class="num" transform="translate(431.68 1198.31) scale(0.95 1)" text-anchor="middle">2.5</text>
<rect x="165.3" y="607.9" width="75.7" height="3.2" fill="#f48e90"/>
<rect x="241.3" y="607.9" width="75.9" height="3.2" fill="#c9c8e3"/>
<rect x="317.5" y="607.9" width="76.05" height="3.2" fill="#eeeef6"/>
<rect x="393.85" y="607.9" width="75.95" height="3.2" fill="#f7f6fb"/>
<rect x="165" y="24.25" width="304.8" height="1180.75" fill="none" stroke="#1e1e1e" stroke-width="1.7"/>
<text class="gene" transform="translate(154 44.4) scale(0.98 1)" text-anchor="end">argC</text>
<text class="gene" transform="translate(154 71.25) scale(0.98 1)" text-anchor="end">argD</text>
<text class="gene" transform="translate(154 98.1) scale(0.98 1)" text-anchor="end">argJ</text>
<text class="gene" transform="translate(154 124.94) scale(0.98 1)" text-anchor="end">argF</text>
<text class="gene" transform="translate(154 151.79) scale(0.98 1)" text-anchor="end">argB</text>
<text class="gene" transform="translate(154 178.64) scale(0.98 1)" text-anchor="end">argH</text>
<text class="gene" transform="translate(154 205.49) scale(0.98 1)" text-anchor="end">argG</text>
<text class="gene" transform="translate(154 232.34) scale(0.98 1)" text-anchor="end">aroB</text>
<text class="gene" transform="translate(154 259.18) scale(0.98 1)" text-anchor="end">aroD</text>
<text class="gene" transform="translate(154 286.03) scale(0.98 1)" text-anchor="end">aroK</text>
<text class="gene" transform="translate(154 312.88) scale(0.98 1)" text-anchor="end">aroE</text>
<text class="gene" transform="translate(154 339.73) scale(0.98 1)" text-anchor="end">aroF</text>
<text class="gene" transform="translate(154 366.58) scale(0.98 1)" text-anchor="end">trpE</text>
<text class="gene" transform="translate(154 393.42) scale(0.98 1)" text-anchor="end">trpD</text>
<text class="gene" transform="translate(154 420.27) scale(0.98 1)" text-anchor="end">hisA</text>
<text class="gene" transform="translate(154 447.12) scale(0.98 1)" text-anchor="end">trpC</text>
<text class="gene" transform="translate(154 473.97) scale(0.98 1)" text-anchor="end">trpB</text>
<text class="gene" transform="translate(154 500.82) scale(0.98 1)" text-anchor="end">trpA</text>
<text class="gene" transform="translate(154 527.66) scale(0.98 1)" text-anchor="end">Rv 885c</text><path class="onei" d="M643 0L463 0L697 1100C621 1040 507 975 295 905L331 1075C512 1140 688 1260 799 1409L942 1409Z" transform="translate(97.22 527.66) scale(0.01018 -0.01035)"/>
<text class="gene" transform="translate(154 554.51) scale(0.98 1)" text-anchor="end">hisC </text><path class="onei" d="M643 0L463 0L697 1100C621 1040 507 975 295 905L331 1075C512 1140 688 1260 799 1409L942 1409Z" transform="translate(142.41 554.51) scale(0.01018 -0.01035)"/>
<text class="gene" transform="translate(154 581.36) scale(0.98 1)" text-anchor="end">pheA</text>
<text class="gene" transform="translate(154 609.01) scale(0.98 1)" text-anchor="end">ask</text>
<text class="gene" transform="translate(154 635.06) scale(0.98 1)" text-anchor="end">asd</text>
<text class="gene" transform="translate(154 661.9) scale(0.98 1)" text-anchor="end">dapC</text>
<text class="gene" transform="translate(154 688.75) scale(0.98 1)" text-anchor="end">dapB</text>
<text class="gene" transform="translate(154 715.6) scale(0.98 1)" text-anchor="end">dapD</text>
<text class="gene" transform="translate(154 742.45) scale(0.98 1)" text-anchor="end">cysE</text>
<text class="gene" transform="translate(154 769.3) scale(0.98 1)" text-anchor="end">cysK </text><path class="onei" d="M643 0L463 0L697 1100C621 1040 507 975 295 905L331 1075C512 1140 688 1260 799 1409L942 1409Z" transform="translate(142.41 769.3) scale(0.01018 -0.01035)"/>
<text class="gene" transform="translate(154 796.14) scale(0.98 1)" text-anchor="end">metA</text>
<text class="gene" transform="translate(154 822.99) scale(0.98 1)" text-anchor="end">metB</text>
<text class="gene" transform="translate(154 849.84) scale(0.98 1)" text-anchor="end">metC</text>
<text class="gene" transform="translate(154 876.69) scale(0.98 1)" text-anchor="end">metE</text>
<text class="gene" transform="translate(154 903.54) scale(0.98 1)" text-anchor="end">metH</text>
<text class="gene" transform="translate(154 930.38) scale(0.98 1)" text-anchor="end">metK</text>
<text class="gene" transform="translate(154 957.23) scale(0.98 1)" text-anchor="end">hisG</text>
<text class="gene" transform="translate(154 984.08) scale(0.98 1)" text-anchor="end">hisE</text>
<text class="gene" transform="translate(154 1010.93) scale(0.98 1)" text-anchor="end">hisI</text>
<text class="gene" transform="translate(154 1037.78) scale(0.98 1)" text-anchor="end">hisA</text>
<text class="gene" transform="translate(154 1064.62) scale(0.98 1)" text-anchor="end">hisH</text>
<text class="gene" transform="translate(154 1091.47) scale(0.98 1)" text-anchor="end">hisF</text>
<text class="gene" transform="translate(154 1118.32) scale(0.98 1)" text-anchor="end">hisB</text>
<text class="gene" transform="translate(154 1145.17) scale(0.98 1)" text-anchor="end">hisC2</text>
<text class="gene" transform="translate(154 1172.02) scale(0.98 1)" text-anchor="end">hisC </text><path class="onei" d="M643 0L463 0L697 1100C621 1040 507 975 295 905L331 1075C512 1140 688 1260 799 1409L942 1409Z" transform="translate(142.41 1172.02) scale(0.01018 -0.01035)"/>
<text class="gene" transform="translate(154 1198.86) scale(0.98 1)" text-anchor="end">hisD</text>
<path d="M78.9 29.8H64V209.2H78.9" fill="none" stroke="#353737" stroke-width="1.6" stroke-linejoin="round"/>
<path d="M78.9 217.3H64V584.4H78.9" fill="none" stroke="#353737" stroke-width="1.6" stroke-linejoin="round"/>
<path d="M78.9 596.1H64V714.6H78.9" fill="none" stroke="#353737" stroke-width="1.6" stroke-linejoin="round"/>
<path d="M78.9 726.7H64V773.6H78.9" fill="none" stroke="#353737" stroke-width="1.6" stroke-linejoin="round"/>
<path d="M78.9 783.7H64V935.6H78.9" fill="none" stroke="#353737" stroke-width="1.6" stroke-linejoin="round"/>
<path d="M78.9 945.7H64V1205.1H78.9" fill="none" stroke="#353737" stroke-width="1.6" stroke-linejoin="round"/>
<text class="grp" transform="translate(50.4 124) rotate(-90) scale(0.9970 1)" text-anchor="middle">Arg</text>
<text class="grp" transform="translate(50.4 395.17) rotate(-90) scale(1.0100 1)" text-anchor="middle">Trp</text>
<text class="grp" transform="translate(50.4 656.67) rotate(-90) scale(0.9860 1)" text-anchor="middle">Lys</text>
<text class="grp" transform="translate(50.6 761.65) rotate(-90) scale(0.9810 1)" text-anchor="middle">Cyst</text>
<text class="grp" transform="translate(50.6 857.2) rotate(-90) scale(0.9770 1)" text-anchor="middle">Met</text>
<text class="grp" transform="translate(50.6 1061.08) rotate(-90) scale(0.9820 1)" text-anchor="middle">His</text>
<text class="cola" transform="translate(203 1235.8) scale(0.98 1)" text-anchor="middle"> %O<tspan class="sub">2</tspan></text>
<path class="onec" d="M763 0H583V1100C520 1040 420 975 223 905V1075C390 1140 540 1260 620 1409H763Z" transform="translate(175.19 1235.8) scale(0.01029 -0.01045)"/>
<text class="cola" transform="translate(279.1 1235.8) scale(0.98 1)" text-anchor="middle">PBS</text>
<text class="cola" transform="translate(355.38 1235.8) scale(0.98 1)" text-anchor="middle">pH</text>
<text class="cola" transform="translate(431.68 1235.8) scale(0.98 1)" text-anchor="middle">StPh</text>
<defs><linearGradient id="g508" x1="0" y1="0" x2="0" y2="1"><stop offset="0" stop-color="#ed1d24"/><stop offset="0.02" stop-color="#ed2128"/><stop offset="0.03" stop-color="#ed262c"/><stop offset="0.05" stop-color="#ee2a2f"/><stop offset="0.06" stop-color="#ee2e33"/><stop offset="0.08" stop-color="#ee3337"/><stop offset="0.09" stop-color="#ee383c"/><stop offset="0.11" stop-color="#ef3e42"/><stop offset="0.12" stop-color="#ef4448"/><stop offset="0.14" stop-color="#ef4b4e"/><stop offset="0.16" stop-color="#f05154"/><stop offset="0.17" stop-color="#f0585a"/><stop offset="0.19" stop-color="#f15f62"/><stop offset="0.2" stop-color="#f1676a"/><stop offset="0.22" stop-color="#f26e71"/><stop offset="0.23" stop-color="#f27678"/><stop offset="0.25" stop-color="#f37e80"/><stop offset="0.27" stop-color="#f48588"/><stop offset="0.28" stop-color="#f48d8f"/><stop offset="0.3" stop-color="#f59496"/><stop offset="0.31" stop-color="#f59c9e"/><stop offset="0.33" stop-color="#f6a3a6"/><stop offset="0.34" stop-color="#f7acad"/><stop offset="0.36" stop-color="#f7b4b6"/><stop offset="0.38" stop-color="#f8bcbe"/><stop offset="0.39" stop-color="#f9c5c6"/><stop offset="0.41" stop-color="#facdce"/><stop offset="0.42" stop-color="#fbd5d6"/><stop offset="0.44" stop-color="#fcdede"/><stop offset="0.45" stop-color="#fce6e7"/><stop offset="0.47" stop-color="#fdeeef"/><stop offset="0.48" stop-color="#fef7f7"/><stop offset="0.5" stop-color="#ffffff"/><stop offset="0.52" stop-color="#f7f7fb"/><stop offset="0.53" stop-color="#efeff7"/><stop offset="0.55" stop-color="#e8e7f3"/><stop offset="0.56" stop-color="#e0dfef"/><stop offset="0.58" stop-color="#d8d7eb"/><stop offset="0.59" stop-color="#d0cfe7"/><stop offset="0.61" stop-color="#c9c7e3"/><stop offset="0.62" stop-color="#c1bfdf"/><stop offset="0.64" stop-color="#b9b7db"/><stop offset="0.66" stop-color="#b1afd7"/><stop offset="0.67" stop-color="#a9a7d2"/><stop offset="0.69" stop-color="#a09fce"/><stop offset="0.7" stop-color="#9796c9"/><stop offset="0.72" stop-color="#8f8ec4"/><stop offset="0.73" stop-color="#8685c0"/><stop offset="0.75" stop-color="#7d7dbb"/><stop offset="0.77" stop-color="#7677b8"/><stop offset="0.78" stop-color="#7071b5"/><stop offset="0.8" stop-color="#696cb3"/><stop offset="0.81" stop-color="#6366b0"/><stop offset="0.83" stop-color="#5c60ad"/><stop offset="0.84" stop-color="#565caa"/><stop offset="0.86" stop-color="#5158a8"/><stop offset="0.88" stop-color="#4b54a5"/><stop offset="0.89" stop-color="#4650a3"/><stop offset="0.91" stop-color="#414ca0"/><stop offset="0.92" stop-color="#3b499e"/><stop offset="0.94" stop-color="#38479c"/><stop offset="0.95" stop-color="#36459c"/><stop offset="0.97" stop-color="#33439b"/><stop offset="0.98" stop-color="#30429b"/><stop offset="1" stop-color="#2e409a"/></linearGradient></defs>
<rect x="508" y="24.3" width="38" height="1180.7" fill="url(#g508)" stroke="#222" stroke-width="1.7"/>
<text class="cbl" transform="translate(559.5 33) scale(0.95 1)">6</text>
<path d="M508 222.5h7M546 222.5h-7" stroke="#222" stroke-width="1.6"/>
<text class="cbl" transform="translate(559.5 230.9) scale(0.95 1)">4</text>
<path d="M508 418.9h7M546 418.9h-7" stroke="#222" stroke-width="1.6"/>
<text class="cbl" transform="translate(559.5 427.3) scale(0.95 1)">2</text>
<path d="M508 615.1h7M546 615.1h-7" stroke="#222" stroke-width="1.6"/>
<text class="cbl" transform="translate(559.5 623.5) scale(0.95 1)">0</text>
<path d="M508 812.6h7M546 812.6h-7" stroke="#222" stroke-width="1.6"/>
<text class="cbl" transform="translate(559.5 821) scale(0.95 1)">-2</text>
<path d="M508 1009.5h7M546 1009.5h-7" stroke="#222" stroke-width="1.6"/>
<text class="cbl" transform="translate(559.5 1017.9) scale(0.95 1)">-4</text>
<text class="cbl" transform="translate(559.5 1213.6) scale(0.95 1)">-6</text>
<rect x="821" y="24.25" width="76.4" height="27.25" fill="#a4a3d2"/>
<rect x="896.9" y="24.25" width="77.2" height="27.25" fill="#f9c8c9"/>
<rect x="973.6" y="24.25" width="76.2" height="27.25" fill="#f8f8fc"/>
<rect x="1049.3" y="24.25" width="75.8" height="27.25" fill="#d9d8ed"/>
<rect x="821" y="51" width="76.4" height="27.7" fill="#dcdcee"/>
<rect x="896.9" y="51" width="77.2" height="27.7" fill="#7476b8"/>
<rect x="973.6" y="51" width="76.2" height="27.7" fill="#d2d1ea"/>
<rect x="1049.3" y="51" width="75.8" height="27.7" fill="#bdbce0"/>
<rect x="821" y="78.2" width="76.4" height="27.2" fill="#cfcde8"/>
<rect x="896.9" y="78.2" width="77.2" height="27.2" fill="#7b7cbc"/>
<rect x="973.6" y="78.2" width="76.2" height="27.2" fill="#c4c3e3"/>
<rect x="1049.3" y="78.2" width="75.8" height="27.2" fill="#cbcae6"/>
<rect x="821" y="104.9" width="76.4" height="27.8" fill="#e0dff0"/>
<rect x="896.9" y="104.9" width="77.2" height="27.8" fill="#9c9cce"/>
<rect x="973.6" y="104.9" width="76.2" height="27.8" fill="#eeedf7"/>
<rect x="1049.3" y="104.9" width="75.8" height="27.8" fill="#f8f8fc"/>
<rect x="821" y="132.2" width="76.4" height="27.2" fill="#f05a5d"/>
<rect x="896.9" y="132.2" width="77.2" height="27.2" fill="#f8b7b9"/>
<rect x="973.6" y="132.2" width="76.2" height="27.2" fill="#fce3e4"/>
<rect x="1049.3" y="132.2" width="75.8" height="27.2" fill="#f8bdbf"/>
<rect x="821" y="158.9" width="76.4" height="27.6" fill="#f48c8f"/>
<rect x="896.9" y="158.9" width="77.2" height="27.6" fill="#fde7e8"/>
<rect x="973.6" y="158.9" width="76.2" height="27.6" fill="#fef5f5"/>
<rect x="1049.3" y="158.9" width="75.8" height="27.6" fill="#fdeeee"/>
<rect x="821" y="186" width="76.4" height="27.5" fill="#ed2028"/>
<rect x="896.9" y="186" width="77.2" height="27.5" fill="#e3e3f2"/>
<rect x="973.6" y="186" width="76.2" height="27.5" fill="#f5f4fa"/>
<rect x="1049.3" y="186" width="75.8" height="27.5" fill="#f7b0b2"/>
<rect x="821" y="213" width="76.4" height="27.4" fill="#ed1c24"/>
<rect x="896.9" y="213" width="77.2" height="27.4" fill="#f1f1f8"/>
<rect x="973.6" y="213" width="76.2" height="27.4" fill="#e0dff0"/>
<rect x="1049.3" y="213" width="75.8" height="27.4" fill="#f9c1c3"/>
<rect x="821" y="239.9" width="76.4" height="27.55" fill="#f6a3a6"/>
<rect x="896.9" y="239.9" width="77.2" height="27.55" fill="#d2d1ea"/>
<rect x="973.6" y="239.9" width="76.2" height="27.55" fill="#d2d1ea"/>
<rect x="1049.3" y="239.9" width="75.8" height="27.55" fill="#fde7e8"/>
<rect x="821" y="266.95" width="76.4" height="27.35" fill="#f37f82"/>
<rect x="896.9" y="266.95" width="77.2" height="27.35" fill="#d2d1ea"/>
<rect x="973.6" y="266.95" width="76.2" height="27.35" fill="#e0dff0"/>
<rect x="1049.3" y="266.95" width="75.8" height="27.35" fill="#facfd0"/>
<rect x="821" y="293.8" width="76.4" height="26.3" fill="#f16e72"/>
<rect x="896.9" y="293.8" width="77.2" height="26.3" fill="#d2d1ea"/>
<rect x="973.6" y="293.8" width="76.2" height="26.3" fill="#f5f4fa"/>
<rect x="1049.3" y="293.8" width="75.8" height="26.3" fill="#f9c1c3"/>
<rect x="821" y="319.6" width="76.4" height="27.2" fill="#f59699"/>
<rect x="896.9" y="319.6" width="77.2" height="27.2" fill="#fbd9da"/>
<rect x="973.6" y="319.6" width="76.2" height="27.2" fill="#f8f8fc"/>
<rect x="1049.3" y="319.6" width="75.8" height="27.2" fill="#f6a6a9"/>
<rect x="821" y="346.3" width="76.4" height="27.7" fill="#afaed8"/>
<rect x="896.9" y="346.3" width="77.2" height="27.7" fill="#545baa"/>
<rect x="973.6" y="346.3" width="76.2" height="27.7" fill="#cfcde8"/>
<rect x="1049.3" y="346.3" width="75.8" height="27.7" fill="#afaed8"/>
<rect x="821" y="373.5" width="76.4" height="27.6" fill="#b6b4dc"/>
<rect x="896.9" y="373.5" width="77.2" height="27.6" fill="#eaeaf5"/>
<rect x="973.6" y="373.5" width="76.2" height="27.6" fill="#f5f4fa"/>
<rect x="1049.3" y="373.5" width="75.8" height="27.6" fill="#9998cc"/>
<rect x="821" y="400.6" width="76.4" height="27.6" fill="#f59c9f"/>
<rect x="896.9" y="400.6" width="77.2" height="27.6" fill="#f49296"/>
<rect x="973.6" y="400.6" width="76.2" height="27.6" fill="#fbd9da"/>
<rect x="1049.3" y="400.6" width="75.8" height="27.6" fill="#facfd0"/>
<rect x="821" y="427.7" width="76.4" height="27.6" fill="#9c9cce"/>
<rect x="896.9" y="427.7" width="77.2" height="27.6" fill="#fef1f2"/>
<rect x="973.6" y="427.7" width="76.2" height="27.6" fill="#e7e6f3"/>
<rect x="1049.3" y="427.7" width="75.8" height="27.6" fill="#dcdcee"/>
<rect x="821" y="454.8" width="76.4" height="27.6" fill="#a4a3d2"/>
<rect x="896.9" y="454.8" width="77.2" height="27.6" fill="#c4c3e3"/>
<rect x="973.6" y="454.8" width="76.2" height="27.6" fill="#c8c6e5"/>
<rect x="1049.3" y="454.8" width="75.8" height="27.6" fill="#dcdcee"/>
<rect x="821" y="481.9" width="76.4" height="27.1" fill="#fbd9da"/>
<rect x="896.9" y="481.9" width="77.2" height="27.1" fill="#fbd9da"/>
<rect x="973.6" y="481.9" width="76.2" height="27.1" fill="#fef1f2"/>
<rect x="1049.3" y="481.9" width="75.8" height="27.1" fill="#f7adaf"/>
<rect x="821" y="508.5" width="76.4" height="27.4" fill="#f05c60"/>
<rect x="896.9" y="508.5" width="77.2" height="27.4" fill="#fbd6d7"/>
<rect x="973.6" y="508.5" width="76.2" height="27.4" fill="#fef1f2"/>
<rect x="1049.3" y="508.5" width="75.8" height="27.4" fill="#f8bdbf"/>
<rect x="821" y="535.4" width="76.4" height="27.4" fill="#f1696d"/>
<rect x="896.9" y="535.4" width="77.2" height="27.4" fill="#eeedf7"/>
<rect x="973.6" y="535.4" width="76.2" height="27.4" fill="#eaeaf5"/>
<rect x="1049.3" y="535.4" width="75.8" height="27.4" fill="#fcdcde"/>
<rect x="821" y="562.3" width="76.4" height="27.2" fill="#f1666a"/>
<rect x="896.9" y="562.3" width="77.2" height="27.2" fill="#fdeeee"/>
<rect x="973.6" y="562.3" width="76.2" height="27.2" fill="#f1f1f8"/>
<rect x="1049.3" y="562.3" width="75.8" height="27.2" fill="#fdeaeb"/>
<rect x="821" y="589" width="76.4" height="26.7" fill="#f05256"/>
<rect x="896.9" y="589" width="77.2" height="26.7" fill="#fde7e8"/>
<rect x="973.6" y="589" width="76.2" height="26.7" fill="#fcfbfd"/>
<rect x="1049.3" y="589" width="75.8" height="26.7" fill="#f9c4c6"/>
<rect x="821" y="615.2" width="76.4" height="27.5" fill="#eeedf7"/>
<rect x="896.9" y="615.2" width="77.2" height="27.5" fill="#a4a3d2"/>
<rect x="973.6" y="615.2" width="76.2" height="27.5" fill="#e0dff0"/>
<rect x="1049.3" y="615.2" width="75.8" height="27.5" fill="#c8c6e5"/>
<rect x="821" y="642.2" width="76.4" height="27.05" fill="#fef1f2"/>
<rect x="896.9" y="642.2" width="77.2" height="27.05" fill="#b3b1da"/>
<rect x="973.6" y="642.2" width="76.2" height="27.05" fill="#e0dff0"/>
<rect x="1049.3" y="642.2" width="75.8" height="27.05" fill="#eeedf7"/>
<rect x="821" y="668.75" width="76.4" height="27.55" fill="#b6b4dc"/>
<rect x="896.9" y="668.75" width="77.2" height="27.55" fill="#9192c8"/>
<rect x="973.6" y="668.75" width="76.2" height="27.55" fill="#eaeaf5"/>
<rect x="1049.3" y="668.75" width="75.8" height="27.55" fill="#eaeaf5"/>
<rect x="821" y="695.8" width="76.4" height="27.6" fill="#f27b7f"/>
<rect x="896.9" y="695.8" width="77.2" height="27.6" fill="#fbd6d7"/>
<rect x="973.6" y="695.8" width="76.2" height="27.6" fill="#fcdcde"/>
<rect x="1049.3" y="695.8" width="75.8" height="27.6" fill="#fcdcde"/>
<rect x="821" y="722.9" width="76.4" height="27.2" fill="#f59699"/>
<rect x="896.9" y="722.9" width="77.2" height="27.2" fill="#e7e6f3"/>
<rect x="973.6" y="722.9" width="76.2" height="27.2" fill="#e3e3f2"/>
<rect x="1049.3" y="722.9" width="75.8" height="27.2" fill="#f8babc"/>
<rect x="821" y="749.6" width="76.4" height="27.2" fill="#f59c9f"/>
<rect x="896.9" y="749.6" width="77.2" height="27.2" fill="#6468b0"/>
<rect x="973.6" y="749.6" width="76.2" height="27.2" fill="#f1f1f8"/>
<rect x="1049.3" y="749.6" width="75.8" height="27.2" fill="#f8b7b9"/>
<rect x="821" y="776.3" width="76.4" height="27.2" fill="#f6a3a6"/>
<rect x="896.9" y="776.3" width="77.2" height="27.2" fill="#5a5fac"/>
<rect x="973.6" y="776.3" width="76.2" height="27.2" fill="#f5f4fa"/>
<rect x="1049.3" y="776.3" width="75.8" height="27.2" fill="#fbd9da"/>
<rect x="821" y="803" width="76.4" height="27.3" fill="#f6a3a6"/>
<rect x="896.9" y="803" width="77.2" height="27.3" fill="#6b6eb4"/>
<rect x="973.6" y="803" width="76.2" height="27.3" fill="#fcfbfd"/>
<rect x="1049.3" y="803" width="75.8" height="27.3" fill="#fce0e1"/>
<rect x="821" y="829.8" width="76.4" height="27.7" fill="#e7e6f3"/>
<rect x="896.9" y="829.8" width="77.2" height="27.7" fill="#8284c0"/>
<rect x="973.6" y="829.8" width="76.2" height="27.7" fill="#dcdcee"/>
<rect x="1049.3" y="829.8" width="75.8" height="27.7" fill="#f1f1f8"/>
<rect x="821" y="857" width="76.4" height="27.35" fill="#fffcfc"/>
<rect x="896.9" y="857" width="77.2" height="27.35" fill="#f7b3b6"/>
<rect x="973.6" y="857" width="76.2" height="27.35" fill="#ffffff"/>
<rect x="1049.3" y="857" width="75.8" height="27.35" fill="#fef1f2"/>
<rect x="821" y="883.85" width="76.4" height="27.35" fill="#f8bdbf"/>
<rect x="896.9" y="883.85" width="77.2" height="27.35" fill="#f9c4c6"/>
<rect x="973.6" y="883.85" width="76.2" height="27.35" fill="#fbd6d7"/>
<rect x="1049.3" y="883.85" width="75.8" height="27.35" fill="#f48f92"/>
<rect x="821" y="910.7" width="76.4" height="27.35" fill="#8a8ac4"/>
<rect x="896.9" y="910.7" width="77.2" height="27.35" fill="#8284c0"/>
<rect x="973.6" y="910.7" width="76.2" height="27.35" fill="#c1bfe1"/>
<rect x="1049.3" y="910.7" width="75.8" height="27.35" fill="#d9d8ed"/>
<rect x="821" y="937.55" width="76.4" height="27.35" fill="#8687c2"/>
<rect x="896.9" y="937.55" width="77.2" height="27.35" fill="#2c3e96"/>
<rect x="973.6" y="937.55" width="76.2" height="27.35" fill="#b6b4dc"/>
<rect x="1049.3" y="937.55" width="75.8" height="27.35" fill="#a0a0d0"/>
<rect x="821" y="964.4" width="76.4" height="27.35" fill="#bab8de"/>
<rect x="896.9" y="964.4" width="77.2" height="27.35" fill="#666ab2"/>
<rect x="973.6" y="964.4" width="76.2" height="27.35" fill="#bab8de"/>
<rect x="1049.3" y="964.4" width="75.8" height="27.35" fill="#9192c8"/>
<rect x="821" y="991.25" width="76.4" height="27.35" fill="#f6aaac"/>
<rect x="896.9" y="991.25" width="77.2" height="27.35" fill="#cbcae6"/>
<rect x="973.6" y="991.25" width="76.2" height="27.35" fill="#e0dff0"/>
<rect x="1049.3" y="991.25" width="75.8" height="27.35" fill="#fef5f5"/>
<rect x="821" y="1018.1" width="76.4" height="27.35" fill="#fef1f2"/>
<rect x="896.9" y="1018.1" width="77.2" height="27.35" fill="#a4a3d2"/>
<rect x="973.6" y="1018.1" width="76.2" height="27.35" fill="#cfcde8"/>
<rect x="1049.3" y="1018.1" width="75.8" height="27.35" fill="#eeedf7"/>
<rect x="821" y="1044.95" width="76.4" height="27.35" fill="#fdeaeb"/>
<rect x="896.9" y="1044.95" width="77.2" height="27.35" fill="#9998cc"/>
<rect x="973.6" y="1044.95" width="76.2" height="27.35" fill="#eaeaf5"/>
<rect x="1049.3" y="1044.95" width="75.8" height="27.35" fill="#fce3e4"/>
<rect x="821" y="1071.8" width="76.4" height="27.7" fill="#fdeeee"/>
<rect x="896.9" y="1071.8" width="77.2" height="27.7" fill="#7072b6"/>
<rect x="973.6" y="1071.8" width="76.2" height="27.7" fill="#f5f4fa"/>
<rect x="1049.3" y="1071.8" width="75.8" height="27.7" fill="#f1f1f8"/>
<rect x="821" y="1099" width="76.4" height="27.3" fill="#d6d4eb"/>
<rect x="896.9" y="1099" width="77.2" height="27.3" fill="#8a8ac4"/>
<rect x="973.6" y="1099" width="76.2" height="27.3" fill="#d9d8ed"/>
<rect x="1049.3" y="1099" width="75.8" height="27.3" fill="#c8c6e5"/>
<rect x="821" y="1125.8" width="76.4" height="27.2" fill="#c8c6e5"/>
<rect x="896.9" y="1125.8" width="77.2" height="27.2" fill="#9192c8"/>
<rect x="973.6" y="1125.8" width="76.2" height="27.2" fill="#b3b1da"/>
<rect x="1049.3" y="1125.8" width="75.8" height="27.2" fill="#d6d4eb"/>
<rect x="821" y="1152.5" width="76.4" height="27.32" fill="#dcdcee"/>
<rect x="896.9" y="1152.5" width="77.2" height="27.32" fill="#9998cc"/>
<rect x="973.6" y="1152.5" width="76.2" height="27.32" fill="#c4c3e3"/>
<rect x="1049.3" y="1152.5" width="75.8" height="27.32" fill="#eaeaf5"/>
<rect x="821" y="1179.32" width="76.4" height="27.32" fill="#f1f1f8"/>
<rect x="896.9" y="1179.32" width="77.2" height="27.32" fill="#8e8ec6"/>
<rect x="973.6" y="1179.32" width="76.2" height="27.32" fill="#c1bfe1"/>
<rect x="1049.3" y="1179.32" width="75.8" height="27.32" fill="#eaeaf5"/>
<rect x="821" y="1206.14" width="76.4" height="27.32" fill="#f5f4fa"/>
<rect x="896.9" y="1206.14" width="77.2" height="27.32" fill="#8a8ac4"/>
<rect x="973.6" y="1206.14" width="76.2" height="27.32" fill="#fef8f8"/>
<rect x="1049.3" y="1206.14" width="75.8" height="27.32" fill="#d9d8ed"/>
<rect x="821" y="1232.96" width="76.4" height="27.32" fill="#b6b4dc"/>
<rect x="896.9" y="1232.96" width="77.2" height="27.32" fill="#e3e3f2"/>
<rect x="973.6" y="1232.96" width="76.2" height="27.32" fill="#f5f4fa"/>
<rect x="1049.3" y="1232.96" width="75.8" height="27.32" fill="#e7e6f3"/>
<rect x="821" y="1259.78" width="76.4" height="27.32" fill="#afaed8"/>
<rect x="896.9" y="1259.78" width="77.2" height="27.32" fill="#e3e3f2"/>
<rect x="973.6" y="1259.78" width="76.2" height="27.32" fill="#e7e6f3"/>
<rect x="1049.3" y="1259.78" width="75.8" height="27.32" fill="#fde7e8"/>
<rect x="821" y="1286.6" width="76.4" height="27.3" fill="#7b7cbc"/>
<rect x="896.9" y="1286.6" width="77.2" height="27.3" fill="#fef5f5"/>
<rect x="973.6" y="1286.6" width="76.2" height="27.3" fill="#fbd9da"/>
<rect x="1049.3" y="1286.6" width="75.8" height="27.3" fill="#7779ba"/>
<text class="num" transform="translate(858.95 43.77) scale(0.95 1)" text-anchor="middle">-2.6</text>
<text class="num" transform="translate(935.25 43.77) scale(0.95 1)" text-anchor="middle"> .6</text><path class="onep" d="M763 0H583V1100C520 1040 420 975 223 905V1075C390 1140 540 1260 620 1409H763Z" transform="translate(923.43 43.77) scale(0.00830 -0.00874)"/>
<text class="num" transform="translate(1011.45 43.77) scale(0.95 1)" text-anchor="middle">-0.2</text>
<text class="num" transform="translate(1086.95 43.77) scale(0.95 1)" text-anchor="middle">- . </text><path class="onep" d="M763 0H583V1100C520 1040 420 975 223 905V1075C390 1140 540 1260 620 1409H763Z" transform="translate(1077.96 43.77) scale(0.00830 -0.00874)"/><path class="onep" d="M763 0H583V1100C520 1040 420 975 223 905V1075C390 1140 540 1260 620 1409H763Z" transform="translate(1092.14 43.77) scale(0.00830 -0.00874)"/>
<text class="num" transform="translate(858.95 70.75) scale(0.95 1)" text-anchor="middle">- .0</text><path class="onep" d="M763 0H583V1100C520 1040 420 975 223 905V1075C390 1140 540 1260 620 1409H763Z" transform="translate(849.96 70.75) scale(0.00830 -0.00874)"/>
<text class="num" transform="translate(935.25 70.75) scale(0.95 1)" text-anchor="middle">-3.9</text>
<text class="num" transform="translate(1011.45 70.75) scale(0.95 1)" text-anchor="middle">- .3</text><path class="onep" d="M763 0H583V1100C520 1040 420 975 223 905V1075C390 1140 540 1260 620 1409H763Z" transform="translate(1002.46 70.75) scale(0.00830 -0.00874)"/>
<text class="num" transform="translate(1086.95 70.75) scale(0.95 1)" text-anchor="middle">- .9</text><path class="onep" d="M763 0H583V1100C520 1040 420 975 223 905V1075C390 1140 540 1260 620 1409H763Z" transform="translate(1077.96 70.75) scale(0.00830 -0.00874)"/>
<text class="num" transform="translate(858.95 97.7) scale(0.95 1)" text-anchor="middle">- .4</text><path class="onep" d="M763 0H583V1100C520 1040 420 975 223 905V1075C390 1140 540 1260 620 1409H763Z" transform="translate(849.96 97.7) scale(0.00830 -0.00874)"/>
<text class="num" transform="translate(935.25 97.7) scale(0.95 1)" text-anchor="middle">-3.7</text>
<text class="num" transform="translate(1011.45 97.7) scale(0.95 1)" text-anchor="middle">- .7</text><path class="onep" d="M763 0H583V1100C520 1040 420 975 223 905V1075C390 1140 540 1260 620 1409H763Z" transform="translate(1002.46 97.7) scale(0.00830 -0.00874)"/>
<text class="num" transform="translate(1086.95 97.7) scale(0.95 1)" text-anchor="middle">- .5</text><path class="onep" d="M763 0H583V1100C520 1040 420 975 223 905V1075C390 1140 540 1260 620 1409H763Z" transform="translate(1077.96 97.7) scale(0.00830 -0.00874)"/>
<text class="num" transform="translate(858.95 124.7) scale(0.95 1)" text-anchor="middle">-0.9</text>
<text class="num" transform="translate(935.25 124.7) scale(0.95 1)" text-anchor="middle">-2.8</text>
<text class="num" transform="translate(1011.45 124.7) scale(0.95 1)" text-anchor="middle">-0.5</text>
<text class="num" transform="translate(1086.95 124.7) scale(0.95 1)" text-anchor="middle">-0.2</text>
<text class="num" transform="translate(858.95 151.7) scale(0.95 1)" text-anchor="middle">5.2</text>
<text class="num" transform="translate(935.25 151.7) scale(0.95 1)" text-anchor="middle">2. </text><path class="onep" d="M763 0H583V1100C520 1040 420 975 223 905V1075C390 1140 540 1260 620 1409H763Z" transform="translate(937.61 151.7) scale(0.00830 -0.00874)"/>
<text class="num" transform="translate(1011.45 151.7) scale(0.95 1)" text-anchor="middle">0.8</text>
<text class="num" transform="translate(1086.95 151.7) scale(0.95 1)" text-anchor="middle"> .9</text><path class="onep" d="M763 0H583V1100C520 1040 420 975 223 905V1075C390 1140 540 1260 620 1409H763Z" transform="translate(1075.13 151.7) scale(0.00830 -0.00874)"/>
<text class="num" transform="translate(858.95 178.6) scale(0.95 1)" text-anchor="middle">3.4</text>
<text class="num" transform="translate(935.25 178.6) scale(0.95 1)" text-anchor="middle">0.7</text>
<text class="num" transform="translate(1011.45 178.6) scale(0.95 1)" text-anchor="middle">0.3</text>
<text class="num" transform="translate(1086.95 178.6) scale(0.95 1)" text-anchor="middle">0.5</text>
<text class="num" transform="translate(858.95 205.65) scale(0.95 1)" text-anchor="middle">7.9</text>
<text class="num" transform="translate(935.25 205.65) scale(0.95 1)" text-anchor="middle">-0.8</text>
<text class="num" transform="translate(1011.45 205.65) scale(0.95 1)" text-anchor="middle">-0.3</text>
<text class="num" transform="translate(1086.95 205.65) scale(0.95 1)" text-anchor="middle">2.3</text>
<text class="num" transform="translate(858.95 232.6) scale(0.95 1)" text-anchor="middle">8. </text><path class="onep" d="M763 0H583V1100C520 1040 420 975 223 905V1075C390 1140 540 1260 620 1409H763Z" transform="translate(861.31 232.6) scale(0.00830 -0.00874)"/>
<text class="num" transform="translate(935.25 232.6) scale(0.95 1)" text-anchor="middle">-0.4</text>
<text class="num" transform="translate(1011.45 232.6) scale(0.95 1)" text-anchor="middle">-0.9</text>
<text class="num" transform="translate(1086.95 232.6) scale(0.95 1)" text-anchor="middle"> .8</text><path class="onep" d="M763 0H583V1100C520 1040 420 975 223 905V1075C390 1140 540 1260 620 1409H763Z" transform="translate(1075.13 232.6) scale(0.00830 -0.00874)"/>
<text class="num" transform="translate(858.95 259.57) scale(0.95 1)" text-anchor="middle">2.7</text>
<text class="num" transform="translate(935.25 259.57) scale(0.95 1)" text-anchor="middle">- .3</text><path class="onep" d="M763 0H583V1100C520 1040 420 975 223 905V1075C390 1140 540 1260 620 1409H763Z" transform="translate(926.26 259.57) scale(0.00830 -0.00874)"/>
<text class="num" transform="translate(1011.45 259.57) scale(0.95 1)" text-anchor="middle">- .3</text><path class="onep" d="M763 0H583V1100C520 1040 420 975 223 905V1075C390 1140 540 1260 620 1409H763Z" transform="translate(1002.46 259.57) scale(0.00830 -0.00874)"/>
<text class="num" transform="translate(1086.95 259.57) scale(0.95 1)" text-anchor="middle">0.7</text>
<text class="num" transform="translate(858.95 286.52) scale(0.95 1)" text-anchor="middle">3.8</text>
<text class="num" transform="translate(935.25 286.52) scale(0.95 1)" text-anchor="middle">- .3</text><path class="onep" d="M763 0H583V1100C520 1040 420 975 223 905V1075C390 1140 540 1260 620 1409H763Z" transform="translate(926.26 286.52) scale(0.00830 -0.00874)"/>
<text class="num" transform="translate(1011.45 286.52) scale(0.95 1)" text-anchor="middle">-0.9</text>
<text class="num" transform="translate(1086.95 286.52) scale(0.95 1)" text-anchor="middle"> .4</text><path class="onep" d="M763 0H583V1100C520 1040 420 975 223 905V1075C390 1140 540 1260 620 1409H763Z" transform="translate(1075.13 286.52) scale(0.00830 -0.00874)"/>
<text class="num" transform="translate(858.95 312.85) scale(0.95 1)" text-anchor="middle">4.4</text>
<text class="num" transform="translate(935.25 312.85) scale(0.95 1)" text-anchor="middle">- .3</text><path class="onep" d="M763 0H583V1100C520 1040 420 975 223 905V1075C390 1140 540 1260 620 1409H763Z" transform="translate(926.26 312.85) scale(0.00830 -0.00874)"/>
<text class="num" transform="translate(1011.45 312.85) scale(0.95 1)" text-anchor="middle">-0.3</text>
<text class="num" transform="translate(1086.95 312.85) scale(0.95 1)" text-anchor="middle"> .8</text><path class="onep" d="M763 0H583V1100C520 1040 420 975 223 905V1075C390 1140 540 1260 620 1409H763Z" transform="translate(1075.13 312.85) scale(0.00830 -0.00874)"/>
<text class="num" transform="translate(858.95 339.1) scale(0.95 1)" text-anchor="middle">3. </text><path class="onep" d="M763 0H583V1100C520 1040 420 975 223 905V1075C390 1140 540 1260 620 1409H763Z" transform="translate(861.31 339.1) scale(0.00830 -0.00874)"/>
<text class="num" transform="translate(935.25 339.1) scale(0.95 1)" text-anchor="middle"> . </text><path class="onep" d="M763 0H583V1100C520 1040 420 975 223 905V1075C390 1140 540 1260 620 1409H763Z" transform="translate(923.43 339.1) scale(0.00830 -0.00874)"/><path class="onep" d="M763 0H583V1100C520 1040 420 975 223 905V1075C390 1140 540 1260 620 1409H763Z" transform="translate(937.61 339.1) scale(0.00830 -0.00874)"/>
<text class="num" transform="translate(1011.45 339.1) scale(0.95 1)" text-anchor="middle">-0.2</text>
<text class="num" transform="translate(1086.95 339.1) scale(0.95 1)" text-anchor="middle">2.6</text>
<text class="num" transform="translate(858.95 366.05) scale(0.95 1)" text-anchor="middle">-2.3</text>
<text class="num" transform="translate(935.25 366.05) scale(0.95 1)" text-anchor="middle">-5. </text><path class="onep" d="M763 0H583V1100C520 1040 420 975 223 905V1075C390 1140 540 1260 620 1409H763Z" transform="translate(940.44 366.05) scale(0.00830 -0.00874)"/>
<text class="num" transform="translate(1011.45 366.05) scale(0.95 1)" text-anchor="middle">- .4</text><path class="onep" d="M763 0H583V1100C520 1040 420 975 223 905V1075C390 1140 540 1260 620 1409H763Z" transform="translate(1002.46 366.05) scale(0.00830 -0.00874)"/>
<text class="num" transform="translate(1086.95 366.05) scale(0.95 1)" text-anchor="middle">-2.3</text>
<text class="num" transform="translate(858.95 393.2) scale(0.95 1)" text-anchor="middle">-2. </text><path class="onep" d="M763 0H583V1100C520 1040 420 975 223 905V1075C390 1140 540 1260 620 1409H763Z" transform="translate(864.14 393.2) scale(0.00830 -0.00874)"/>
<text class="num" transform="translate(935.25 393.2) scale(0.95 1)" text-anchor="middle">-0.6</text>
<text class="num" transform="translate(1011.45 393.2) scale(0.95 1)" text-anchor="middle">-0.3</text>
<text class="num" transform="translate(1086.95 393.2) scale(0.95 1)" text-anchor="middle">-2.9</text>
<text class="num" transform="translate(858.95 420.3) scale(0.95 1)" text-anchor="middle">2.9</text>
<text class="num" transform="translate(935.25 420.3) scale(0.95 1)" text-anchor="middle">3.2</text>
<text class="num" transform="translate(1011.45 420.3) scale(0.95 1)" text-anchor="middle"> . </text><path class="onep" d="M763 0H583V1100C520 1040 420 975 223 905V1075C390 1140 540 1260 620 1409H763Z" transform="translate(999.63 420.3) scale(0.00830 -0.00874)"/><path class="onep" d="M763 0H583V1100C520 1040 420 975 223 905V1075C390 1140 540 1260 620 1409H763Z" transform="translate(1013.81 420.3) scale(0.00830 -0.00874)"/>
<text class="num" transform="translate(1086.95 420.3) scale(0.95 1)" text-anchor="middle"> .4</text><path class="onep" d="M763 0H583V1100C520 1040 420 975 223 905V1075C390 1140 540 1260 620 1409H763Z" transform="translate(1075.13 420.3) scale(0.00830 -0.00874)"/>
<text class="num" transform="translate(858.95 447.4) scale(0.95 1)" text-anchor="middle">-2.8</text>
<text class="num" transform="translate(935.25 447.4) scale(0.95 1)" text-anchor="middle">0.4</text>
<text class="num" transform="translate(1011.45 447.4) scale(0.95 1)" text-anchor="middle">-0.7</text>
<text class="num" transform="translate(1086.95 447.4) scale(0.95 1)" text-anchor="middle">- .0</text><path class="onep" d="M763 0H583V1100C520 1040 420 975 223 905V1075C390 1140 540 1260 620 1409H763Z" transform="translate(1077.96 447.4) scale(0.00830 -0.00874)"/>
<text class="num" transform="translate(858.95 474.5) scale(0.95 1)" text-anchor="middle">-2.6</text>
<text class="num" transform="translate(935.25 474.5) scale(0.95 1)" text-anchor="middle">- .7</text><path class="onep" d="M763 0H583V1100C520 1040 420 975 223 905V1075C390 1140 540 1260 620 1409H763Z" transform="translate(926.26 474.5) scale(0.00830 -0.00874)"/>
<text class="num" transform="translate(1011.45 474.5) scale(0.95 1)" text-anchor="middle">- .6</text><path class="onep" d="M763 0H583V1100C520 1040 420 975 223 905V1075C390 1140 540 1260 620 1409H763Z" transform="translate(1002.46 474.5) scale(0.00830 -0.00874)"/>
<text class="num" transform="translate(1086.95 474.5) scale(0.95 1)" text-anchor="middle">- .0</text><path class="onep" d="M763 0H583V1100C520 1040 420 975 223 905V1075C390 1140 540 1260 620 1409H763Z" transform="translate(1077.96 474.5) scale(0.00830 -0.00874)"/>
<text class="num" transform="translate(858.95 501.35) scale(0.95 1)" text-anchor="middle"> . </text><path class="onep" d="M763 0H583V1100C520 1040 420 975 223 905V1075C390 1140 540 1260 620 1409H763Z" transform="translate(847.13 501.35) scale(0.00830 -0.00874)"/><path class="onep" d="M763 0H583V1100C520 1040 420 975 223 905V1075C390 1140 540 1260 620 1409H763Z" transform="translate(861.31 501.35) scale(0.00830 -0.00874)"/>
<text class="num" transform="translate(935.25 501.35) scale(0.95 1)" text-anchor="middle"> . </text><path class="onep" d="M763 0H583V1100C520 1040 420 975 223 905V1075C390 1140 540 1260 620 1409H763Z" transform="translate(923.43 501.35) scale(0.00830 -0.00874)"/><path class="onep" d="M763 0H583V1100C520 1040 420 975 223 905V1075C390 1140 540 1260 620 1409H763Z" transform="translate(937.61 501.35) scale(0.00830 -0.00874)"/>
<text class="num" transform="translate(1011.45 501.35) scale(0.95 1)" text-anchor="middle">0.4</text>
<text class="num" transform="translate(1086.95 501.35) scale(0.95 1)" text-anchor="middle">2.4</text>
<text class="num" transform="translate(858.95 528.1) scale(0.95 1)" text-anchor="middle">5. </text><path class="onep" d="M763 0H583V1100C520 1040 420 975 223 905V1075C390 1140 540 1260 620 1409H763Z" transform="translate(861.31 528.1) scale(0.00830 -0.00874)"/>
<text class="num" transform="translate(935.25 528.1) scale(0.95 1)" text-anchor="middle"> .2</text><path class="onep" d="M763 0H583V1100C520 1040 420 975 223 905V1075C390 1140 540 1260 620 1409H763Z" transform="translate(923.43 528.1) scale(0.00830 -0.00874)"/>
<text class="num" transform="translate(1011.45 528.1) scale(0.95 1)" text-anchor="middle">0.4</text>
<text class="num" transform="translate(1086.95 528.1) scale(0.95 1)" text-anchor="middle"> .9</text><path class="onep" d="M763 0H583V1100C520 1040 420 975 223 905V1075C390 1140 540 1260 620 1409H763Z" transform="translate(1075.13 528.1) scale(0.00830 -0.00874)"/>
<text class="num" transform="translate(858.95 555) scale(0.95 1)" text-anchor="middle">4.6</text>
<text class="num" transform="translate(935.25 555) scale(0.95 1)" text-anchor="middle">-0.5</text>
<text class="num" transform="translate(1011.45 555) scale(0.95 1)" text-anchor="middle">-0.6</text>
<text class="num" transform="translate(1086.95 555) scale(0.95 1)" text-anchor="middle"> .0</text><path class="onep" d="M763 0H583V1100C520 1040 420 975 223 905V1075C390 1140 540 1260 620 1409H763Z" transform="translate(1075.13 555) scale(0.00830 -0.00874)"/>
<text class="num" transform="translate(858.95 581.8) scale(0.95 1)" text-anchor="middle">4.7</text>
<text class="num" transform="translate(935.25 581.8) scale(0.95 1)" text-anchor="middle">0.5</text>
<text class="num" transform="translate(1011.45 581.8) scale(0.95 1)" text-anchor="middle">-0.4</text>
<text class="num" transform="translate(1086.95 581.8) scale(0.95 1)" text-anchor="middle">0.6</text>
<text class="num" transform="translate(858.95 609.65) scale(0.95 1)" text-anchor="middle">5.5</text>
<text class="num" transform="translate(935.25 609.65) scale(0.95 1)" text-anchor="middle">0.7</text>
<text class="num" transform="translate(1011.45 609.65) scale(0.95 1)" text-anchor="middle">-0. </text><path class="onep" d="M763 0H583V1100C520 1040 420 975 223 905V1075C390 1140 540 1260 620 1409H763Z" transform="translate(1016.64 609.65) scale(0.00830 -0.00874)"/>
<text class="num" transform="translate(1086.95 609.65) scale(0.95 1)" text-anchor="middle"> .7</text><path class="onep" d="M763 0H583V1100C520 1040 420 975 223 905V1075C390 1140 540 1260 620 1409H763Z" transform="translate(1075.13 609.65) scale(0.00830 -0.00874)"/>
<text class="num" transform="translate(858.95 634.85) scale(0.95 1)" text-anchor="middle">-0.5</text>
<text class="num" transform="translate(935.25 634.85) scale(0.95 1)" text-anchor="middle">-2.6</text>
<text class="num" transform="translate(1011.45 634.85) scale(0.95 1)" text-anchor="middle">-0.9</text>
<text class="num" transform="translate(1086.95 634.85) scale(0.95 1)" text-anchor="middle">- .6</text><path class="onep" d="M763 0H583V1100C520 1040 420 975 223 905V1075C390 1140 540 1260 620 1409H763Z" transform="translate(1077.96 634.85) scale(0.00830 -0.00874)"/>
<text class="num" transform="translate(858.95 661.62) scale(0.95 1)" text-anchor="middle">0.4</text>
<text class="num" transform="translate(935.25 661.62) scale(0.95 1)" text-anchor="middle">-2.2</text>
<text class="num" transform="translate(1011.45 661.62) scale(0.95 1)" text-anchor="middle">-0.9</text>
<text class="num" transform="translate(1086.95 661.62) scale(0.95 1)" text-anchor="middle">-0.5</text>
<text class="num" transform="translate(858.95 688.42) scale(0.95 1)" text-anchor="middle">-2. </text><path class="onep" d="M763 0H583V1100C520 1040 420 975 223 905V1075C390 1140 540 1260 620 1409H763Z" transform="translate(864.14 688.42) scale(0.00830 -0.00874)"/>
<text class="num" transform="translate(935.25 688.42) scale(0.95 1)" text-anchor="middle">-3. </text><path class="onep" d="M763 0H583V1100C520 1040 420 975 223 905V1075C390 1140 540 1260 620 1409H763Z" transform="translate(940.44 688.42) scale(0.00830 -0.00874)"/>
<text class="num" transform="translate(1011.45 688.42) scale(0.95 1)" text-anchor="middle">-0.6</text>
<text class="num" transform="translate(1086.95 688.42) scale(0.95 1)" text-anchor="middle">-0.6</text>
<text class="num" transform="translate(858.95 715.5) scale(0.95 1)" text-anchor="middle">3.9</text>
<text class="num" transform="translate(935.25 715.5) scale(0.95 1)" text-anchor="middle"> .2</text><path class="onep" d="M763 0H583V1100C520 1040 420 975 223 905V1075C390 1140 540 1260 620 1409H763Z" transform="translate(923.43 715.5) scale(0.00830 -0.00874)"/>
<text class="num" transform="translate(1011.45 715.5) scale(0.95 1)" text-anchor="middle"> .0</text><path class="onep" d="M763 0H583V1100C520 1040 420 975 223 905V1075C390 1140 540 1260 620 1409H763Z" transform="translate(999.63 715.5) scale(0.00830 -0.00874)"/>
<text class="num" transform="translate(1086.95 715.5) scale(0.95 1)" text-anchor="middle"> .0</text><path class="onep" d="M763 0H583V1100C520 1040 420 975 223 905V1075C390 1140 540 1260 620 1409H763Z" transform="translate(1075.13 715.5) scale(0.00830 -0.00874)"/>
<text class="num" transform="translate(858.95 742.4) scale(0.95 1)" text-anchor="middle">3. </text><path class="onep" d="M763 0H583V1100C520 1040 420 975 223 905V1075C390 1140 540 1260 620 1409H763Z" transform="translate(861.31 742.4) scale(0.00830 -0.00874)"/>
<text class="num" transform="translate(935.25 742.4) scale(0.95 1)" text-anchor="middle">-0.7</text>
<text class="num" transform="translate(1011.45 742.4) scale(0.95 1)" text-anchor="middle">-0.8</text>
<text class="num" transform="translate(1086.95 742.4) scale(0.95 1)" text-anchor="middle">2.0</text>
<text class="num" transform="translate(858.95 769.1) scale(0.95 1)" text-anchor="middle">2.9</text>
<text class="num" transform="translate(935.25 769.1) scale(0.95 1)" text-anchor="middle">-4.5</text>
<text class="num" transform="translate(1011.45 769.1) scale(0.95 1)" text-anchor="middle">-0.4</text>
<text class="num" transform="translate(1086.95 769.1) scale(0.95 1)" text-anchor="middle">2. </text><path class="onep" d="M763 0H583V1100C520 1040 420 975 223 905V1075C390 1140 540 1260 620 1409H763Z" transform="translate(1089.31 769.1) scale(0.00830 -0.00874)"/>
<text class="num" transform="translate(858.95 795.8) scale(0.95 1)" text-anchor="middle">2.7</text>
<text class="num" transform="translate(935.25 795.8) scale(0.95 1)" text-anchor="middle">-4.9</text>
<text class="num" transform="translate(1011.45 795.8) scale(0.95 1)" text-anchor="middle">-0.3</text>
<text class="num" transform="translate(1086.95 795.8) scale(0.95 1)" text-anchor="middle"> . </text><path class="onep" d="M763 0H583V1100C520 1040 420 975 223 905V1075C390 1140 540 1260 620 1409H763Z" transform="translate(1075.13 795.8) scale(0.00830 -0.00874)"/><path class="onep" d="M763 0H583V1100C520 1040 420 975 223 905V1075C390 1140 540 1260 620 1409H763Z" transform="translate(1089.31 795.8) scale(0.00830 -0.00874)"/>
<text class="num" transform="translate(858.95 822.55) scale(0.95 1)" text-anchor="middle">2.7</text>
<text class="num" transform="translate(935.25 822.55) scale(0.95 1)" text-anchor="middle">-4.2</text>
<text class="num" transform="translate(1011.45 822.55) scale(0.95 1)" text-anchor="middle">-0. </text><path class="onep" d="M763 0H583V1100C520 1040 420 975 223 905V1075C390 1140 540 1260 620 1409H763Z" transform="translate(1016.64 822.55) scale(0.00830 -0.00874)"/>
<text class="num" transform="translate(1086.95 822.55) scale(0.95 1)" text-anchor="middle">0.9</text>
<text class="num" transform="translate(858.95 849.55) scale(0.95 1)" text-anchor="middle">-0.7</text>
<text class="num" transform="translate(935.25 849.55) scale(0.95 1)" text-anchor="middle">-3.5</text>
<text class="num" transform="translate(1011.45 849.55) scale(0.95 1)" text-anchor="middle">- .0</text><path class="onep" d="M763 0H583V1100C520 1040 420 975 223 905V1075C390 1140 540 1260 620 1409H763Z" transform="translate(1002.46 849.55) scale(0.00830 -0.00874)"/>
<text class="num" transform="translate(1086.95 849.55) scale(0.95 1)" text-anchor="middle">-0.4</text>
<text class="num" transform="translate(858.95 876.57) scale(0.95 1)" text-anchor="middle">0. </text><path class="onep" d="M763 0H583V1100C520 1040 420 975 223 905V1075C390 1140 540 1260 620 1409H763Z" transform="translate(861.31 876.57) scale(0.00830 -0.00874)"/>
<text class="num" transform="translate(935.25 876.57) scale(0.95 1)" text-anchor="middle">2.2</text>
<text class="num" transform="translate(1011.45 876.57) scale(0.95 1)" text-anchor="middle">0</text>
<text class="num" transform="translate(1086.95 876.57) scale(0.95 1)" text-anchor="middle">0.4</text>
<text class="num" transform="translate(858.95 903.43) scale(0.95 1)" text-anchor="middle"> .9</text><path class="onep" d="M763 0H583V1100C520 1040 420 975 223 905V1075C390 1140 540 1260 620 1409H763Z" transform="translate(847.13 903.43) scale(0.00830 -0.00874)"/>
<text class="num" transform="translate(935.25 903.43) scale(0.95 1)" text-anchor="middle"> .7</text><path class="onep" d="M763 0H583V1100C520 1040 420 975 223 905V1075C390 1140 540 1260 620 1409H763Z" transform="translate(923.43 903.43) scale(0.00830 -0.00874)"/>
<text class="num" transform="translate(1011.45 903.43) scale(0.95 1)" text-anchor="middle"> .2</text><path class="onep" d="M763 0H583V1100C520 1040 420 975 223 905V1075C390 1140 540 1260 620 1409H763Z" transform="translate(999.63 903.43) scale(0.00830 -0.00874)"/>
<text class="num" transform="translate(1086.95 903.43) scale(0.95 1)" text-anchor="middle">3.3</text>
<text class="num" transform="translate(858.95 930.27) scale(0.95 1)" text-anchor="middle">-3.3</text>
<text class="num" transform="translate(935.25 930.27) scale(0.95 1)" text-anchor="middle">-3.5</text>
<text class="num" transform="translate(1011.45 930.27) scale(0.95 1)" text-anchor="middle">- .8</text><path class="onep" d="M763 0H583V1100C520 1040 420 975 223 905V1075C390 1140 540 1260 620 1409H763Z" transform="translate(1002.46 930.27) scale(0.00830 -0.00874)"/>
<text class="num" transform="translate(1086.95 930.27) scale(0.95 1)" text-anchor="middle">- . </text><path class="onep" d="M763 0H583V1100C520 1040 420 975 223 905V1075C390 1140 540 1260 620 1409H763Z" transform="translate(1077.96 930.27) scale(0.00830 -0.00874)"/><path class="onep" d="M763 0H583V1100C520 1040 420 975 223 905V1075C390 1140 540 1260 620 1409H763Z" transform="translate(1092.14 930.27) scale(0.00830 -0.00874)"/>
<text class="num" transform="translate(858.95 957.12) scale(0.95 1)" text-anchor="middle">-3.4</text>
<text class="num" transform="translate(935.25 957.12) scale(0.95 1)" text-anchor="middle">-7.3</text>
<text class="num" transform="translate(1011.45 957.12) scale(0.95 1)" text-anchor="middle">-2. </text><path class="onep" d="M763 0H583V1100C520 1040 420 975 223 905V1075C390 1140 540 1260 620 1409H763Z" transform="translate(1016.64 957.12) scale(0.00830 -0.00874)"/>
<text class="num" transform="translate(1086.95 957.12) scale(0.95 1)" text-anchor="middle">-2.7</text>
<text class="num" transform="translate(858.95 983.98) scale(0.95 1)" text-anchor="middle">-2.0</text>
<text class="num" transform="translate(935.25 983.98) scale(0.95 1)" text-anchor="middle">-4.4</text>
<text class="num" transform="translate(1011.45 983.98) scale(0.95 1)" text-anchor="middle">-2.0</text>
<text class="num" transform="translate(1086.95 983.98) scale(0.95 1)" text-anchor="middle">-3. </text><path class="onep" d="M763 0H583V1100C520 1040 420 975 223 905V1075C390 1140 540 1260 620 1409H763Z" transform="translate(1092.14 983.98) scale(0.00830 -0.00874)"/>
<text class="num" transform="translate(858.95 1010.82) scale(0.95 1)" text-anchor="middle">2.5</text>
<text class="num" transform="translate(935.25 1010.82) scale(0.95 1)" text-anchor="middle">- .5</text><path class="onep" d="M763 0H583V1100C520 1040 420 975 223 905V1075C390 1140 540 1260 620 1409H763Z" transform="translate(926.26 1010.82) scale(0.00830 -0.00874)"/>
<text class="num" transform="translate(1011.45 1010.82) scale(0.95 1)" text-anchor="middle">-0.9</text>
<text class="num" transform="translate(1086.95 1010.82) scale(0.95 1)" text-anchor="middle">0.3</text>
<text class="num" transform="translate(858.95 1037.68) scale(0.95 1)" text-anchor="middle">0.4</text>
<text class="num" transform="translate(935.25 1037.68) scale(0.95 1)" text-anchor="middle">-2.6</text>
<text class="num" transform="translate(1011.45 1037.68) scale(0.95 1)" text-anchor="middle">- .4</text><path class="onep" d="M763 0H583V1100C520 1040 420 975 223 905V1075C390 1140 540 1260 620 1409H763Z" transform="translate(1002.46 1037.68) scale(0.00830 -0.00874)"/>
<text class="num" transform="translate(1086.95 1037.68) scale(0.95 1)" text-anchor="middle">-0.5</text>
<text class="num" transform="translate(858.95 1064.53) scale(0.95 1)" text-anchor="middle">0.6</text>
<text class="num" transform="translate(935.25 1064.53) scale(0.95 1)" text-anchor="middle">-2.9</text>
<text class="num" transform="translate(1011.45 1064.53) scale(0.95 1)" text-anchor="middle">-0.6</text>
<text class="num" transform="translate(1086.95 1064.53) scale(0.95 1)" text-anchor="middle">0.8</text>
<text class="num" transform="translate(858.95 1091.55) scale(0.95 1)" text-anchor="middle">0.5</text>
<text class="num" transform="translate(935.25 1091.55) scale(0.95 1)" text-anchor="middle">-4.0</text>
<text class="num" transform="translate(1011.45 1091.55) scale(0.95 1)" text-anchor="middle">-0.3</text>
<text class="num" transform="translate(1086.95 1091.55) scale(0.95 1)" text-anchor="middle">-0.4</text>
<text class="num" transform="translate(858.95 1118.55) scale(0.95 1)" text-anchor="middle">- .2</text><path class="onep" d="M763 0H583V1100C520 1040 420 975 223 905V1075C390 1140 540 1260 620 1409H763Z" transform="translate(849.96 1118.55) scale(0.00830 -0.00874)"/>
<text class="num" transform="translate(935.25 1118.55) scale(0.95 1)" text-anchor="middle">-3.3</text>
<text class="num" transform="translate(1011.45 1118.55) scale(0.95 1)" text-anchor="middle">- . </text><path class="onep" d="M763 0H583V1100C520 1040 420 975 223 905V1075C390 1140 540 1260 620 1409H763Z" transform="translate(1002.46 1118.55) scale(0.00830 -0.00874)"/><path class="onep" d="M763 0H583V1100C520 1040 420 975 223 905V1075C390 1140 540 1260 620 1409H763Z" transform="translate(1016.64 1118.55) scale(0.00830 -0.00874)"/>
<text class="num" transform="translate(1086.95 1118.55) scale(0.95 1)" text-anchor="middle">- .6</text><path class="onep" d="M763 0H583V1100C520 1040 420 975 223 905V1075C390 1140 540 1260 620 1409H763Z" transform="translate(1077.96 1118.55) scale(0.00830 -0.00874)"/>
<text class="num" transform="translate(858.95 1145.3) scale(0.95 1)" text-anchor="middle">- .6</text><path class="onep" d="M763 0H583V1100C520 1040 420 975 223 905V1075C390 1140 540 1260 620 1409H763Z" transform="translate(849.96 1145.3) scale(0.00830 -0.00874)"/>
<text class="num" transform="translate(935.25 1145.3) scale(0.95 1)" text-anchor="middle">-3. </text><path class="onep" d="M763 0H583V1100C520 1040 420 975 223 905V1075C390 1140 540 1260 620 1409H763Z" transform="translate(940.44 1145.3) scale(0.00830 -0.00874)"/>
<text class="num" transform="translate(1011.45 1145.3) scale(0.95 1)" text-anchor="middle">-2.2</text>
<text class="num" transform="translate(1086.95 1145.3) scale(0.95 1)" text-anchor="middle">- .2</text><path class="onep" d="M763 0H583V1100C520 1040 420 975 223 905V1075C390 1140 540 1260 620 1409H763Z" transform="translate(1077.96 1145.3) scale(0.00830 -0.00874)"/>
<text class="num" transform="translate(858.95 1172.06) scale(0.95 1)" text-anchor="middle">- .0</text><path class="onep" d="M763 0H583V1100C520 1040 420 975 223 905V1075C390 1140 540 1260 620 1409H763Z" transform="translate(849.96 1172.06) scale(0.00830 -0.00874)"/>
<text class="num" transform="translate(935.25 1172.06) scale(0.95 1)" text-anchor="middle">-2.9</text>
<text class="num" transform="translate(1011.45 1172.06) scale(0.95 1)" text-anchor="middle">- .7</text><path class="onep" d="M763 0H583V1100C520 1040 420 975 223 905V1075C390 1140 540 1260 620 1409H763Z" transform="translate(1002.46 1172.06) scale(0.00830 -0.00874)"/>
<text class="num" transform="translate(1086.95 1172.06) scale(0.95 1)" text-anchor="middle">-0.6</text>
<text class="num" transform="translate(858.95 1198.88) scale(0.95 1)" text-anchor="middle">-0.4</text>
<text class="num" transform="translate(935.25 1198.88) scale(0.95 1)" text-anchor="middle">-3.2</text>
<text class="num" transform="translate(1011.45 1198.88) scale(0.95 1)" text-anchor="middle">- .8</text><path class="onep" d="M763 0H583V1100C520 1040 420 975 223 905V1075C390 1140 540 1260 620 1409H763Z" transform="translate(1002.46 1198.88) scale(0.00830 -0.00874)"/>
<text class="num" transform="translate(1086.95 1198.88) scale(0.95 1)" text-anchor="middle">-0.6</text>
<text class="num" transform="translate(858.95 1225.7) scale(0.95 1)" text-anchor="middle">-0.3</text>
<text class="num" transform="translate(935.25 1225.7) scale(0.95 1)" text-anchor="middle">-3.3</text>
<text class="num" transform="translate(1011.45 1225.7) scale(0.95 1)" text-anchor="middle">0.2</text>
<text class="num" transform="translate(1086.95 1225.7) scale(0.95 1)" text-anchor="middle">- . </text><path class="onep" d="M763 0H583V1100C520 1040 420 975 223 905V1075C390 1140 540 1260 620 1409H763Z" transform="translate(1077.96 1225.7) scale(0.00830 -0.00874)"/><path class="onep" d="M763 0H583V1100C520 1040 420 975 223 905V1075C390 1140 540 1260 620 1409H763Z" transform="translate(1092.14 1225.7) scale(0.00830 -0.00874)"/>
<text class="num" transform="translate(858.95 1252.52) scale(0.95 1)" text-anchor="middle">-2. </text><path class="onep" d="M763 0H583V1100C520 1040 420 975 223 905V1075C390 1140 540 1260 620 1409H763Z" transform="translate(864.14 1252.52) scale(0.00830 -0.00874)"/>
<text class="num" transform="translate(935.25 1252.52) scale(0.95 1)" text-anchor="middle">-0.8</text>
<text class="num" transform="translate(1011.45 1252.52) scale(0.95 1)" text-anchor="middle">-0.3</text>
<text class="num" transform="translate(1086.95 1252.52) scale(0.95 1)" text-anchor="middle">-0.7</text>
<text class="num" transform="translate(858.95 1279.34) scale(0.95 1)" text-anchor="middle">-2.3</text>
<text class="num" transform="translate(935.25 1279.34) scale(0.95 1)" text-anchor="middle">-0.8</text>
<text class="num" transform="translate(1011.45 1279.34) scale(0.95 1)" text-anchor="middle">-0.7</text>
<text class="num" transform="translate(1086.95 1279.34) scale(0.95 1)" text-anchor="middle">0.7</text>
<text class="num" transform="translate(858.95 1306.15) scale(0.95 1)" text-anchor="middle">-3.7</text>
<text class="num" transform="translate(935.25 1306.15) scale(0.95 1)" text-anchor="middle">0.3</text>
<text class="num" transform="translate(1011.45 1306.15) scale(0.95 1)" text-anchor="middle"> . </text><path class="onep" d="M763 0H583V1100C520 1040 420 975 223 905V1075C390 1140 540 1260 620 1409H763Z" transform="translate(999.63 1306.15) scale(0.00830 -0.00874)"/><path class="onep" d="M763 0H583V1100C520 1040 420 975 223 905V1075C390 1140 540 1260 620 1409H763Z" transform="translate(1013.81 1306.15) scale(0.00830 -0.00874)"/>
<text class="num" transform="translate(1086.95 1306.15) scale(0.95 1)" text-anchor="middle">-3.8</text>
<rect x="821.3" y="607.9" width="75.6" height="3.2" fill="#f05256"/>
<rect x="897.2" y="607.9" width="76.4" height="3.2" fill="#fde7e8"/>
<rect x="973.9" y="607.9" width="75.4" height="3.2" fill="#fcfbfd"/>
<rect x="1049.6" y="607.9" width="75" height="3.2" fill="#f9c4c6"/>
<rect x="821" y="24.25" width="303.6" height="1289.15" fill="none" stroke="#1e1e1e" stroke-width="1.7"/>
<text class="gene" transform="translate(809.5 44.4) scale(0.98 1)" text-anchor="end">bisC</text>
<text class="gene" transform="translate(809.5 71.25) scale(0.98 1)" text-anchor="end">bioF </text><path class="onei" d="M643 0L463 0L697 1100C621 1040 507 975 295 905L331 1075C512 1140 688 1260 799 1409L942 1409Z" transform="translate(797.91 71.25) scale(0.01018 -0.01035)"/>
<text class="gene" transform="translate(809.5 98.1) scale(0.98 1)" text-anchor="end">bioD</text>
<text class="gene" transform="translate(809.5 124.94) scale(0.98 1)" text-anchor="end">bioB</text>
<text class="gene" transform="translate(809.5 151.79) scale(0.98 1)" text-anchor="end">accA </text><path class="onei" d="M643 0L463 0L697 1100C621 1040 507 975 295 905L331 1075C512 1140 688 1260 799 1409L942 1409Z" transform="translate(797.91 151.79) scale(0.01018 -0.01035)"/>
<text class="gene" transform="translate(809.5 178.64) scale(0.98 1)" text-anchor="end">accD </text><path class="onei" d="M643 0L463 0L697 1100C621 1040 507 975 295 905L331 1075C512 1140 688 1260 799 1409L942 1409Z" transform="translate(797.91 178.64) scale(0.01018 -0.01035)"/>
<text class="gene" transform="translate(809.5 205.49) scale(0.98 1)" text-anchor="end">accA2</text>
<text class="gene" transform="translate(809.5 232.34) scale(0.98 1)" text-anchor="end">accD2</text>
<text class="gene" transform="translate(809.5 259.18) scale(0.98 1)" text-anchor="end">moaC2</text>
<text class="gene" transform="translate(809.5 286.03) scale(0.98 1)" text-anchor="end">mog</text>
<text class="gene" transform="translate(809.5 312.88) scale(0.98 1)" text-anchor="end">moaE2</text>
<text class="gene" transform="translate(809.5 339.73) scale(0.98 1)" text-anchor="end">moaB2</text>
<text class="gene" transform="translate(809.5 366.58) scale(0.98 1)" text-anchor="end">moaA </text><path class="onei" d="M643 0L463 0L697 1100C621 1040 507 975 295 905L331 1075C512 1140 688 1260 799 1409L942 1409Z" transform="translate(797.91 366.58) scale(0.01018 -0.01035)"/>
<text class="gene" transform="translate(809.5 393.42) scale(0.98 1)" text-anchor="end">moaE </text><path class="onei" d="M643 0L463 0L697 1100C621 1040 507 975 295 905L331 1075C512 1140 688 1260 799 1409L942 1409Z" transform="translate(797.91 393.42) scale(0.01018 -0.01035)"/>
<text class="gene" transform="translate(809.5 420.27) scale(0.98 1)" text-anchor="end">moaR </text><path class="onei" d="M643 0L463 0L697 1100C621 1040 507 975 295 905L331 1075C512 1140 688 1260 799 1409L942 1409Z" transform="translate(797.91 420.27) scale(0.01018 -0.01035)"/>
<text class="gene" transform="translate(809.5 447.12) scale(0.98 1)" text-anchor="end">modA</text>
<text class="gene" transform="translate(809.5 473.97) scale(0.98 1)" text-anchor="end">modB</text>
<text class="gene" transform="translate(809.5 500.82) scale(0.98 1)" text-anchor="end">modC</text>
<text class="gene" transform="translate(809.5 527.66) scale(0.98 1)" text-anchor="end">folE</text>
<text class="gene" transform="translate(809.5 554.51) scale(0.98 1)" text-anchor="end">folK</text>
<text class="gene" transform="translate(809.5 581.36) scale(0.98 1)" text-anchor="end">folB</text>
<text class="gene" transform="translate(809.5 609.01) scale(0.98 1)" text-anchor="end">folP </text><path class="onei" d="M643 0L463 0L697 1100C621 1040 507 975 295 905L331 1075C512 1140 688 1260 799 1409L942 1409Z" transform="translate(797.91 609.01) scale(0.01018 -0.01035)"/>
<text class="gene" transform="translate(809.5 635.06) scale(0.98 1)" text-anchor="end">folC</text>
<text class="gene" transform="translate(809.5 661.9) scale(0.98 1)" text-anchor="end">folD</text>
<text class="gene" transform="translate(809.5 688.75) scale(0.98 1)" text-anchor="end">gcvT</text>
<text class="gene" transform="translate(809.5 715.6) scale(0.98 1)" text-anchor="end">purU</text>
<text class="gene" transform="translate(809.5 742.45) scale(0.98 1)" text-anchor="end">fmt</text>
<text class="gene" transform="translate(809.5 769.3) scale(0.98 1)" text-anchor="end">nadA</text>
<text class="gene" transform="translate(809.5 796.14) scale(0.98 1)" text-anchor="end">nadB</text>
<text class="gene" transform="translate(809.5 822.99) scale(0.98 1)" text-anchor="end">nadC</text>
<text class="gene" transform="translate(809.5 849.84) scale(0.98 1)" text-anchor="end">nudC</text>
<text class="gene" transform="translate(809.5 876.69) scale(0.98 1)" text-anchor="end">pncA</text>
<text class="gene" transform="translate(809.5 903.54) scale(0.98 1)" text-anchor="end">pncB2</text>
<text class="gene" transform="translate(809.5 930.38) scale(0.98 1)" text-anchor="end">pntAa</text>
<text class="gene" transform="translate(809.5 957.23) scale(0.98 1)" text-anchor="end">pntAb</text>
<text class="gene" transform="translate(809.5 984.08) scale(0.98 1)" text-anchor="end">pntB</text>
<text class="gene" transform="translate(809.5 1010.93) scale(0.98 1)" text-anchor="end">cobB</text>
<text class="gene" transform="translate(809.5 1037.78) scale(0.98 1)" text-anchor="end">cobH</text>
<text class="gene" transform="translate(809.5 1064.62) scale(0.98 1)" text-anchor="end">cobL</text>
<text class="gene" transform="translate(809.5 1091.47) scale(0.98 1)" text-anchor="end">cobM</text>
<text class="gene" transform="translate(809.5 1118.32) scale(0.98 1)" text-anchor="end">cobN</text>
<text class="gene" transform="translate(809.5 1145.17) scale(0.98 1)" text-anchor="end">cobS</text>
<text class="gene" transform="translate(809.5 1172.02) scale(0.98 1)" text-anchor="end">cobT</text>
<text class="gene" transform="translate(809.5 1198.86) scale(0.98 1)" text-anchor="end">hemL</text>
<text class="gene" transform="translate(809.5 1225.71) scale(0.98 1)" text-anchor="end">hemZ</text>
<text class="gene" transform="translate(809.5 1252.56) scale(0.98 1)" text-anchor="end">menA</text>
<text class="gene" transform="translate(809.5 1279.41) scale(0.98 1)" text-anchor="end">menB</text>
<text class="gene" transform="translate(809.5 1306.26) scale(0.98 1)" text-anchor="end">Rv2949c</text>
<path d="M733.9 25.5H718.9V236.2H733.9" fill="none" stroke="#353737" stroke-width="1.6" stroke-linejoin="round"/>
<path d="M733.9 243.9H718.9V505H733.9" fill="none" stroke="#353737" stroke-width="1.6" stroke-linejoin="round"/>
<path d="M733.9 517.6H718.9V739.4H733.9" fill="none" stroke="#353737" stroke-width="1.6" stroke-linejoin="round"/>
<path d="M733.9 750.7H718.9V985.7H733.9" fill="none" stroke="#353737" stroke-width="1.6" stroke-linejoin="round"/>
<path d="M733.9 1000.3H718.9V1230.4H733.9" fill="none" stroke="#353737" stroke-width="1.6" stroke-linejoin="round"/>
<path d="M733.9 1238.6H718.9V1312.1H733.9" fill="none" stroke="#353737" stroke-width="1.6" stroke-linejoin="round"/>
<text class="grp" transform="translate(703.4 122.88) rotate(-90) scale(0.9870 1)" text-anchor="middle">Biotin</text>
<text class="grp" transform="translate(702.6 364.93) rotate(-90) scale(0.9750 1)" text-anchor="middle">MoCo</text>
<text class="grp" transform="translate(703.2 634.63) rotate(-90) scale(0.9740 1)" text-anchor="middle">Folate</text>
<text class="grp" transform="translate(708.8 860.25) rotate(-90) scale(0.9610 1)" text-anchor="middle">NAD</text>
<text class="grp sup" transform="translate(689.8 815.3) rotate(-90)" text-anchor="middle">+</text>
<text class="grp" transform="translate(703 1108.58) rotate(-90) scale(0.9770 1)" text-anchor="middle">Vitamin B12</text>
<text class="grp" transform="translate(702.9 1268.88) rotate(-90) scale(0.9830 1)" text-anchor="middle">Men</text>
<text class="colb" transform="translate(858.95 1344.6) scale(0.96 1)" text-anchor="middle"> %O<tspan class="sub">2</tspan></text>
<path class="onec" d="M815 0H505V1160L165 955V1195L528 1409H815Z" transform="translate(831.1 1344.6) scale(0.01036 -0.01079)"/>
<text class="colb" transform="translate(935.25 1344.6) scale(0.96 1)" text-anchor="middle">PBS</text>
<text class="colb" transform="translate(1011.45 1344.6) scale(0.96 1)" text-anchor="middle">pH</text>
<text class="colb" transform="translate(1086.95 1344.6) scale(0.96 1)" text-anchor="middle">StPh</text>
<defs><linearGradient id="g1162" x1="0" y1="0" x2="0" y2="1"><stop offset="0" stop-color="#ed1c24"/><stop offset="0.02" stop-color="#ed2128"/><stop offset="0.03" stop-color="#ed262c"/><stop offset="0.05" stop-color="#ee2a31"/><stop offset="0.06" stop-color="#ee2f35"/><stop offset="0.08" stop-color="#ee3439"/><stop offset="0.09" stop-color="#ee393d"/><stop offset="0.11" stop-color="#ef3e42"/><stop offset="0.12" stop-color="#ef4246"/><stop offset="0.14" stop-color="#ef484b"/><stop offset="0.16" stop-color="#ef4e51"/><stop offset="0.17" stop-color="#f05457"/><stop offset="0.19" stop-color="#f05a5d"/><stop offset="0.2" stop-color="#f16063"/><stop offset="0.22" stop-color="#f16669"/><stop offset="0.23" stop-color="#f16c6f"/><stop offset="0.25" stop-color="#f27275"/><stop offset="0.27" stop-color="#f2787c"/><stop offset="0.28" stop-color="#f37f83"/><stop offset="0.3" stop-color="#f3878b"/><stop offset="0.31" stop-color="#f48f93"/><stop offset="0.33" stop-color="#f5979a"/><stop offset="0.34" stop-color="#f69fa2"/><stop offset="0.36" stop-color="#f6a7aa"/><stop offset="0.38" stop-color="#f7afb1"/><stop offset="0.39" stop-color="#f8b7b9"/><stop offset="0.41" stop-color="#f9bfc1"/><stop offset="0.42" stop-color="#f9c7c9"/><stop offset="0.44" stop-color="#fad0d1"/><stop offset="0.45" stop-color="#fbd8d9"/><stop offset="0.47" stop-color="#fce0e1"/><stop offset="0.48" stop-color="#fde9e9"/><stop offset="0.5" stop-color="#fef1f1"/><stop offset="0.52" stop-color="#fef9f9"/><stop offset="0.53" stop-color="#fdfcfe"/><stop offset="0.55" stop-color="#f4f4fa"/><stop offset="0.56" stop-color="#ecebf6"/><stop offset="0.58" stop-color="#e4e3f2"/><stop offset="0.59" stop-color="#dbdaee"/><stop offset="0.61" stop-color="#d3d2ea"/><stop offset="0.62" stop-color="#cbc9e6"/><stop offset="0.64" stop-color="#c3c1e2"/><stop offset="0.66" stop-color="#bab8de"/><stop offset="0.67" stop-color="#b1b0d9"/><stop offset="0.69" stop-color="#a8a7d5"/><stop offset="0.7" stop-color="#a09fd0"/><stop offset="0.72" stop-color="#9797cb"/><stop offset="0.73" stop-color="#8e8ec6"/><stop offset="0.75" stop-color="#8586c1"/><stop offset="0.77" stop-color="#7c7dbc"/><stop offset="0.78" stop-color="#7375b8"/><stop offset="0.8" stop-color="#6c6fb4"/><stop offset="0.81" stop-color="#666ab2"/><stop offset="0.83" stop-color="#6065af"/><stop offset="0.84" stop-color="#5a60ac"/><stop offset="0.86" stop-color="#545baa"/><stop offset="0.88" stop-color="#4e55a7"/><stop offset="0.89" stop-color="#4850a4"/><stop offset="0.91" stop-color="#424ba2"/><stop offset="0.92" stop-color="#3d479f"/><stop offset="0.94" stop-color="#3a469e"/><stop offset="0.95" stop-color="#36449c"/><stop offset="0.97" stop-color="#33429a"/><stop offset="0.98" stop-color="#304098"/><stop offset="1" stop-color="#2c3e96"/></linearGradient></defs>
<rect x="1162.7" y="24.3" width="39.1" height="1289.2" fill="url(#g1162)" stroke="#222" stroke-width="1.7"/>
<path d="M1162.7 32.9h7M1201.8 32.9h-7" stroke="#222" stroke-width="1.6"/>
<text class="cbl" transform="translate(1215.5 41.3) scale(0.95 1)">8</text>
<path d="M1162.7 200.5h7M1201.8 200.5h-7" stroke="#222" stroke-width="1.6"/>
<text class="cbl" transform="translate(1215.5 208.9) scale(0.95 1)">6</text>
<path d="M1162.7 368h7M1201.8 368h-7" stroke="#222" stroke-width="1.6"/>
<text class="cbl" transform="translate(1215.5 376.4) scale(0.95 1)">4</text>
<path d="M1162.7 535.4h7M1201.8 535.4h-7" stroke="#222" stroke-width="1.6"/>
<text class="cbl" transform="translate(1215.5 543.8) scale(0.95 1)">2</text>
<path d="M1162.7 703.4h7M1201.8 703.4h-7" stroke="#222" stroke-width="1.6"/>
<text class="cbl" transform="translate(1215.5 711.8) scale(0.95 1)">0</text>
<path d="M1162.7 870.6h7M1201.8 870.6h-7" stroke="#222" stroke-width="1.6"/>
<text class="cbl" transform="translate(1215.5 879) scale(0.95 1)">-2</text>
<path d="M1162.7 1038h7M1201.8 1038h-7" stroke="#222" stroke-width="1.6"/>
<text class="cbl" transform="translate(1215.5 1046.4) scale(0.95 1)">-4</text>
<path d="M1162.7 1204h7M1201.8 1204h-7" stroke="#222" stroke-width="1.6"/>
<text class="cbl" transform="translate(1215.5 1212.4) scale(0.95 1)">-6</text>
</svg></body></html>
